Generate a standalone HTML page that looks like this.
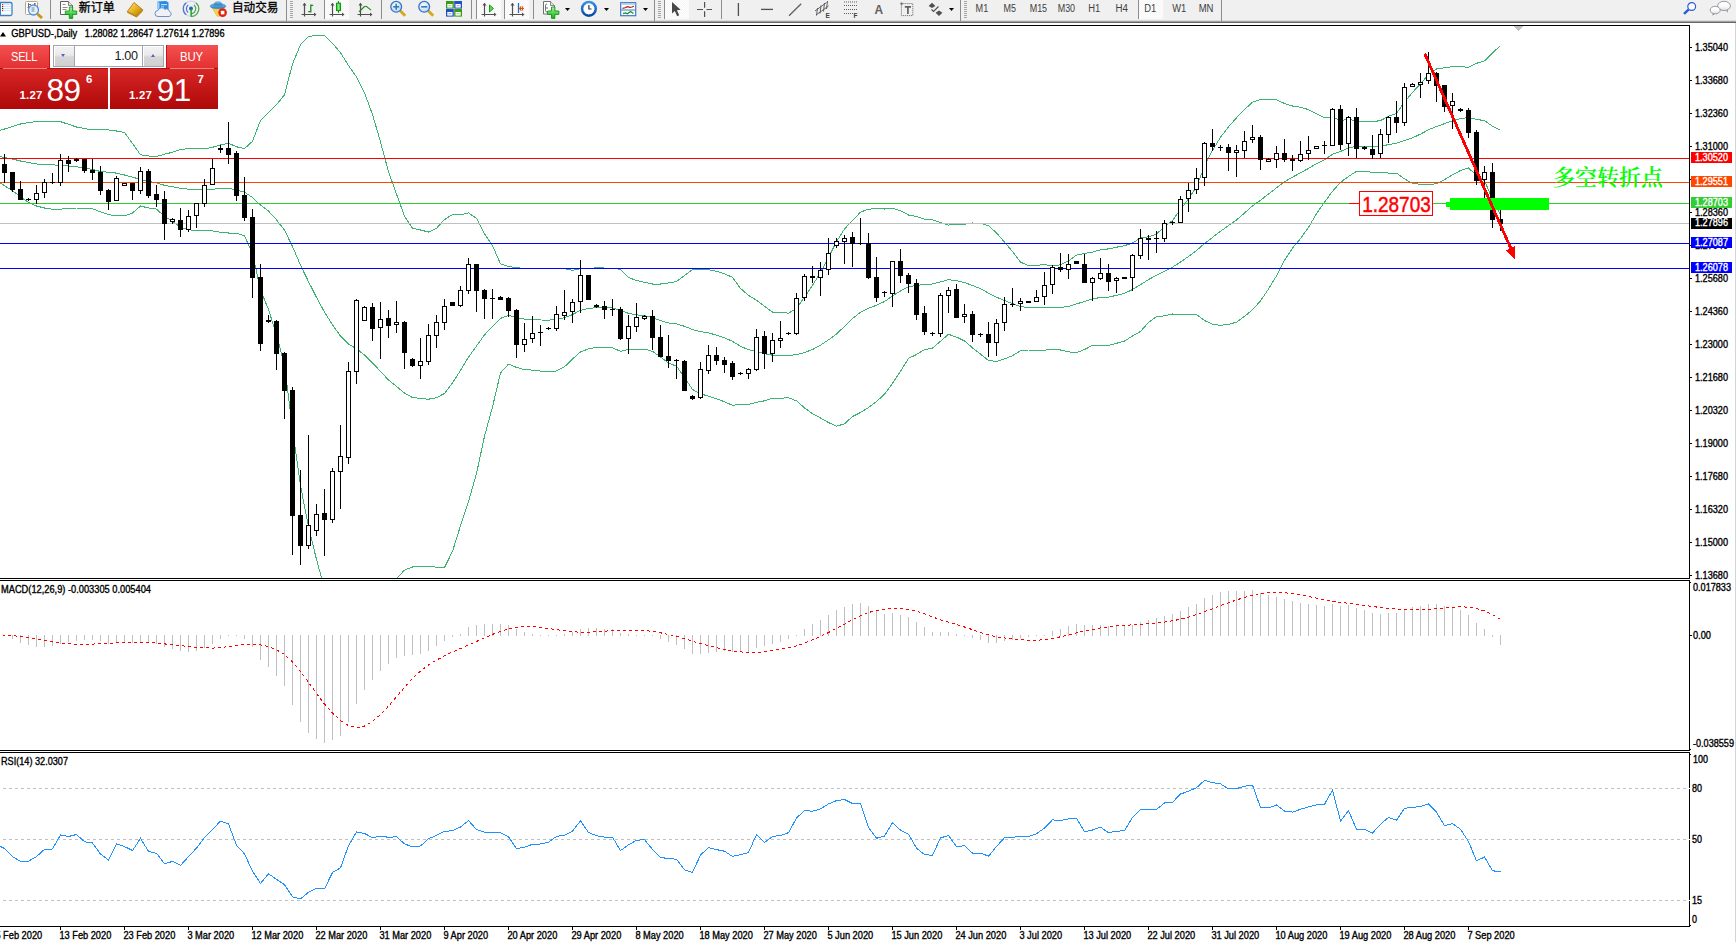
<!DOCTYPE html>
<html><head><meta charset="utf-8"><title>GBPUSD Daily</title>
<style>
html,body{margin:0;padding:0;background:#fff;}
body{width:1736px;height:942px;position:relative;overflow:hidden;font-family:"Liberation Sans", "Noto Sans CJK SC", sans-serif;}
#tb{position:absolute;left:0;top:0;width:1736px;height:20px;background:#f0f0f0;}
#tbl1{position:absolute;left:0;top:20px;width:1736px;height:1px;background:#dcdcdc}
#tbl2{position:absolute;left:0;top:21px;width:1736px;height:1px;background:#a0a0a0}
#tbl3{position:absolute;left:0;top:22px;width:1736px;height:1px;background:#696969}
#oct{position:absolute;left:0;top:45px;width:218px;height:64px;color:#fff;}
#oct .r{position:absolute;}
#oct .sell{left:0;top:0;width:50px;height:24px;background:linear-gradient(#f55050,#e23030);border-right:1px solid #c41414;box-sizing:border-box}
#oct .buy{left:166px;top:0;width:52px;height:24px;background:linear-gradient(#f55050,#e23030);border-left:1px solid #c41414;box-sizing:border-box}
#oct .big{top:23px;height:41px;background:linear-gradient(#d82626,#ae0808);border-top:1px solid #b40c0c;box-sizing:border-box}
#oct .big.l{left:0;width:108px;} #oct .big.rr{left:110px;width:108px;}
#oct .wg{position:absolute;left:50px;top:22px;width:116px;height:1px;background:#fff}
#oct .ul{position:absolute;top:23px;width:44px;height:1px;background:#f08080;}
#oct .spin{position:absolute;left:53px;top:0;width:111px;height:22px;border:1px solid #a2a6ae;background:#fff;box-sizing:border-box}
#oct .sb{position:absolute;top:0;width:21px;height:20px;background:linear-gradient(#f4f4f4,#eaeaea 45%,#d6d6d6 55%,#d0d0d0);box-sizing:border-box}
#oct .sb.lft{left:0;border-right:1px solid #a2a6ae;box-shadow:inset 1px 1px 0 #fff}
#oct .sb.rgt{right:0;border-left:1px solid #a2a6ae;box-shadow:inset 1px 1px 0 #fff}
#oct i{position:absolute;left:7px;width:0;height:0;border-left:2.8px solid transparent;border-right:2.8px solid transparent;}
#oct i.dn{top:8px;border-top:3.6px solid #5660c8;} #oct i.up{top:7.6px;border-bottom:3.6px solid #5660c8;left:7.6px}
#oct .vol{position:absolute;right:25.4px;top:3.3px;font-size:12.6px;line-height:14px;color:#181818;letter-spacing:-0.35px}
#oct .lb{position:absolute;transform-origin:left center;top:5px;font-size:12.4px;line-height:14px;letter-spacing:-0.2px;white-space:nowrap}
#oct .sm{position:absolute;font-size:11.4px;font-weight:700;line-height:12px;letter-spacing:0.25px}
#oct .bg{position:absolute;top:28.5px;font-size:31.5px;line-height:32px;letter-spacing:-0.6px}

</style></head><body>
<svg width="1736" height="942" viewBox="0 0 1736 942" style="position:absolute;left:0;top:0" shape-rendering="crispEdges">
<defs><clipPath id="cm"><rect x="0" y="26" width="1689" height="552"/></clipPath><clipPath id="c2"><rect x="0" y="581" width="1689" height="169"/></clipPath><clipPath id="c3"><rect x="0" y="753" width="1689" height="173"/></clipPath></defs>
<g clip-path="url(#cm)">
<polyline points="-3.5,131.5 4.5,129.0 12.5,126.5 20.5,124.0 28.5,122.5 36.5,121.7 44.5,121.7 52.5,121.7 60.5,121.7 68.5,124.3 76.5,127.0 84.5,128.5 92.5,129.9 100.5,129.9 108.5,129.9 116.5,131.0 124.5,132.5 132.5,143.5 140.5,154.8 148.5,156.0 156.5,156.5 164.5,154.2 172.5,152.3 180.5,149.5 188.5,148.7 196.5,148.7 204.5,148.9 212.5,147.3 220.5,145.0 228.5,143.3 236.5,146.8 244.5,148.6 252.5,141.3 260.5,120.5 268.5,112.6 276.5,104.8 284.5,94.8 292.5,64.0 300.5,44.6 308.5,36.4 316.5,35.4 324.5,35.6 332.5,43.3 340.5,52.7 348.5,65.5 356.5,77.0 364.5,92.8 372.5,114.5 380.5,141.9 388.5,171.8 396.5,194.0 404.5,216.1 412.5,228.1 420.5,230.0 428.5,232.0 436.5,228.3 444.5,219.6 452.5,214.5 460.5,214.8 468.5,212.8 476.5,218.4 484.5,233.6 492.5,245.7 500.5,263.8 508.5,266.5 516.5,267.6 524.5,268.5 532.5,268.5 540.5,268.9 548.5,268.9 556.5,268.5 564.5,268.6 572.5,270.3 580.5,268.6 588.5,268.2 596.5,267.9 604.5,268.0 612.5,268.2 620.5,269.3 628.5,277.5 636.5,280.5 644.5,282.3 652.5,284.0 660.5,284.0 668.5,283.0 676.5,281.5 684.5,275.4 692.5,269.7 700.5,269.1 708.5,269.6 716.5,271.4 724.5,273.7 732.5,277.4 740.5,288.4 748.5,295.3 756.5,300.3 764.5,306.3 772.5,312.1 780.5,312.1 788.5,313.2 796.5,308.3 804.5,297.2 812.5,285.4 820.5,272.4 828.5,257.3 836.5,241.7 844.5,228.9 852.5,220.6 860.5,212.1 868.5,209.1 876.5,208.8 884.5,209.0 892.5,208.4 900.5,210.7 908.5,215.0 916.5,216.5 924.5,219.1 932.5,219.9 940.5,222.6 948.5,225.1 956.5,224.2 964.5,224.3 972.5,223.0 980.5,223.2 988.5,225.7 996.5,232.9 1004.5,242.2 1012.5,251.5 1020.5,262.2 1028.5,265.5 1036.5,265.5 1044.5,264.5 1052.5,266.0 1060.5,264.7 1068.5,261.0 1076.5,255.1 1084.5,253.4 1092.5,252.1 1100.5,249.8 1108.5,248.9 1116.5,247.2 1124.5,245.7 1132.5,243.0 1140.5,238.0 1148.5,236.8 1156.5,234.0 1164.5,226.6 1172.5,220.4 1180.5,209.5 1188.5,198.8 1196.5,186.6 1204.5,166.4 1212.5,150.4 1220.5,137.3 1228.5,126.9 1236.5,117.8 1244.5,109.6 1252.5,102.2 1260.5,99.5 1268.5,99.2 1276.5,99.8 1284.5,103.5 1292.5,106.0 1300.5,107.2 1308.5,109.6 1316.5,113.8 1324.5,117.6 1332.5,117.1 1340.5,120.6 1348.5,119.2 1356.5,121.3 1364.5,121.5 1372.5,121.7 1380.5,120.6 1388.5,116.2 1396.5,113.4 1404.5,102.1 1412.5,92.4 1420.5,83.8 1428.5,74.6 1436.5,69.0 1444.5,67.8 1452.5,66.6 1460.5,66.6 1468.5,67.3 1476.5,63.3 1484.5,60.9 1492.5,52.9 1500.5,45.5" fill="none" stroke="#3cb371" stroke-width="1" />
<polyline points="-3.5,156.0 4.5,157.5 12.5,159.0 20.5,161.0 28.5,162.5 36.5,164.0 44.5,164.7 52.5,164.9 60.5,165.2 68.5,166.1 76.5,166.8 84.5,168.0 92.5,169.5 100.5,171.5 108.5,172.3 116.5,173.1 124.5,175.0 132.5,177.2 140.5,179.4 148.5,181.5 156.5,182.8 164.5,185.3 172.5,186.8 180.5,188.3 188.5,189.2 196.5,189.8 204.5,189.9 212.5,189.2 220.5,188.6 228.5,188.2 236.5,189.9 244.5,192.2 252.5,197.5 260.5,205.1 268.5,211.1 276.5,219.8 284.5,230.2 292.5,246.5 300.5,265.1 308.5,281.7 316.5,297.4 324.5,312.2 332.5,324.8 340.5,336.2 348.5,344.0 356.5,348.8 364.5,355.0 372.5,362.9 380.5,371.4 388.5,380.0 396.5,386.4 404.5,393.1 412.5,397.5 420.5,398.5 428.5,399.2 436.5,397.7 444.5,393.5 452.5,383.0 460.5,370.3 468.5,357.2 476.5,346.0 484.5,334.9 492.5,326.3 500.5,318.4 508.5,315.3 516.5,317.5 524.5,319.1 532.5,319.3 540.5,320.0 548.5,320.1 556.5,319.7 564.5,317.7 572.5,314.6 580.5,310.3 588.5,308.5 596.5,307.6 604.5,307.8 612.5,308.0 620.5,310.3 628.5,313.4 636.5,314.8 644.5,315.7 652.5,317.7 660.5,320.5 668.5,323.0 676.5,323.8 684.5,326.3 692.5,329.6 700.5,331.5 708.5,332.9 716.5,335.1 724.5,337.7 732.5,341.4 740.5,346.3 748.5,349.8 756.5,351.4 764.5,353.6 772.5,355.2 780.5,355.2 788.5,355.5 796.5,354.6 804.5,352.5 812.5,349.5 820.5,345.2 828.5,339.9 836.5,334.0 844.5,326.4 852.5,318.6 860.5,312.3 868.5,308.3 876.5,305.2 884.5,301.6 892.5,295.9 900.5,291.0 908.5,286.7 916.5,285.5 924.5,284.4 932.5,284.0 940.5,281.9 948.5,279.7 956.5,280.6 964.5,282.6 972.5,285.4 980.5,288.7 988.5,293.1 996.5,297.2 1004.5,300.5 1012.5,303.6 1020.5,306.5 1028.5,307.7 1036.5,307.7 1044.5,307.4 1052.5,307.7 1060.5,307.4 1068.5,306.4 1076.5,303.9 1084.5,301.5 1092.5,298.7 1100.5,297.6 1108.5,297.2 1116.5,295.3 1124.5,293.4 1132.5,289.5 1140.5,284.7 1148.5,279.6 1156.5,275.3 1164.5,271.3 1172.5,267.2 1180.5,262.1 1188.5,256.5 1196.5,250.6 1204.5,243.5 1212.5,237.4 1220.5,231.3 1228.5,225.6 1236.5,220.0 1244.5,213.0 1252.5,205.9 1260.5,200.2 1268.5,194.1 1276.5,187.8 1284.5,181.9 1292.5,177.1 1300.5,172.9 1308.5,168.4 1316.5,163.8 1324.5,159.9 1332.5,154.2 1340.5,151.5 1348.5,147.8 1356.5,146.3 1364.5,146.6 1372.5,147.0 1380.5,146.3 1388.5,144.6 1396.5,143.2 1404.5,140.5 1412.5,137.9 1420.5,134.1 1428.5,129.8 1436.5,126.4 1444.5,123.7 1452.5,120.8 1460.5,118.5 1468.5,117.6 1476.5,119.3 1484.5,120.7 1492.5,126.2 1500.5,130.2" fill="none" stroke="#3cb371" stroke-width="1" />
<polyline points="-3.5,180.6 4.5,185.7 12.5,190.8 20.5,196.9 28.5,202.5 36.5,206.0 44.5,208.0 52.5,209.2 60.5,209.2 68.5,208.3 76.5,208.0 84.5,208.0 92.5,208.8 100.5,211.8 108.5,214.7 116.5,215.9 124.5,216.0 132.5,213.0 140.5,206.0 148.5,208.0 156.5,209.1 164.5,216.4 172.5,221.4 180.5,227.2 188.5,229.7 196.5,230.8 204.5,230.8 212.5,231.0 220.5,232.3 228.5,233.0 236.5,233.0 244.5,235.9 252.5,253.6 260.5,289.7 268.5,309.6 276.5,334.9 284.5,365.6 292.5,428.9 300.5,485.6 308.5,526.9 316.5,559.5 324.5,588.9 332.5,606.4 340.5,619.8 348.5,622.5 356.5,620.7 364.5,617.1 372.5,611.3 380.5,600.9 388.5,588.2 396.5,578.7 404.5,570.1 412.5,567.0 420.5,566.9 428.5,566.4 436.5,567.1 444.5,567.5 452.5,551.4 460.5,525.8 468.5,501.7 476.5,473.6 484.5,436.3 492.5,406.9 500.5,373.0 508.5,364.1 516.5,367.4 524.5,369.7 532.5,370.1 540.5,371.1 548.5,371.3 556.5,371.0 564.5,366.8 572.5,358.9 580.5,352.0 588.5,348.8 596.5,347.4 604.5,347.5 612.5,347.7 620.5,351.4 628.5,349.3 636.5,349.1 644.5,349.2 652.5,351.3 660.5,357.0 668.5,363.0 676.5,366.2 684.5,377.3 692.5,389.5 700.5,393.9 708.5,396.1 716.5,398.9 724.5,401.7 732.5,405.4 740.5,404.1 748.5,404.3 756.5,402.4 764.5,400.8 772.5,398.3 780.5,398.2 788.5,397.8 796.5,400.8 804.5,407.9 812.5,413.7 820.5,418.0 828.5,422.5 836.5,426.2 844.5,423.8 852.5,416.5 860.5,412.5 868.5,407.6 876.5,401.6 884.5,394.2 892.5,383.4 900.5,371.3 908.5,358.4 916.5,354.5 924.5,349.7 932.5,348.1 940.5,341.2 948.5,334.3 956.5,337.1 964.5,340.9 972.5,347.9 980.5,354.1 988.5,360.5 996.5,361.5 1004.5,358.9 1012.5,355.7 1020.5,350.7 1028.5,350.0 1036.5,350.0 1044.5,350.2 1052.5,349.3 1060.5,350.0 1068.5,351.8 1076.5,352.8 1084.5,349.5 1092.5,345.4 1100.5,345.5 1108.5,345.5 1116.5,343.3 1124.5,341.1 1132.5,336.0 1140.5,331.5 1148.5,322.4 1156.5,316.6 1164.5,315.9 1172.5,314.0 1180.5,314.6 1188.5,314.3 1196.5,314.6 1204.5,320.5 1212.5,324.3 1220.5,325.3 1228.5,324.4 1236.5,322.2 1244.5,316.4 1252.5,309.7 1260.5,300.9 1268.5,289.0 1276.5,275.9 1284.5,260.3 1292.5,248.1 1300.5,238.6 1308.5,227.3 1316.5,213.8 1324.5,202.1 1332.5,191.3 1340.5,182.4 1348.5,176.4 1356.5,171.4 1364.5,171.6 1372.5,172.2 1380.5,172.1 1388.5,173.1 1396.5,173.1 1404.5,178.9 1412.5,183.3 1420.5,184.3 1428.5,184.9 1436.5,183.7 1444.5,179.6 1452.5,174.9 1460.5,170.5 1468.5,168.0 1476.5,175.4 1484.5,180.6 1492.5,199.6 1500.5,214.9" fill="none" stroke="#3cb371" stroke-width="1" />
<rect x="0" y="158" width="1689" height="1" fill="#ff0000"/>
<rect x="0" y="182" width="1689" height="1" fill="#ff4500"/>
<rect x="0" y="203" width="1689" height="1" fill="#32cd32"/>
<rect x="0" y="223" width="1689" height="1" fill="#c0c0c0"/>
<rect x="0" y="243" width="1689" height="1" fill="#0000ff"/>
<rect x="0" y="268" width="1689" height="1" fill="#0000ff"/>
<rect x="4" y="154" width="1" height="29" fill="#000"/>
<rect x="2" y="164" width="5" height="9" fill="#000"/>
<rect x="12" y="172" width="1" height="20" fill="#000"/>
<rect x="10" y="172" width="5" height="18" fill="#000"/>
<rect x="20" y="181" width="1" height="19" fill="#000"/>
<rect x="18" y="189" width="5" height="11" fill="#000"/>
<rect x="28" y="198" width="1" height="3" fill="#000"/>
<rect x="26" y="199" width="5" height="1" fill="#000"/>
<rect x="36" y="185" width="1" height="19" fill="#000"/>
<rect x="34" y="193" width="5" height="7" fill="#000"/>
<rect x="35" y="194" width="3" height="5" fill="#fff"/>
<rect x="44" y="179" width="1" height="19" fill="#000"/>
<rect x="42" y="182" width="5" height="11" fill="#000"/>
<rect x="43" y="183" width="3" height="9" fill="#fff"/>
<rect x="52" y="173" width="1" height="11" fill="#000"/>
<rect x="50" y="182" width="5" height="1" fill="#000"/>
<rect x="60" y="154" width="1" height="32" fill="#000"/>
<rect x="58" y="160" width="5" height="23" fill="#000"/>
<rect x="59" y="161" width="3" height="21" fill="#fff"/>
<rect x="68" y="156" width="1" height="16" fill="#000"/>
<rect x="66" y="160" width="5" height="4" fill="#000"/>
<rect x="76" y="158" width="1" height="4" fill="#000"/>
<rect x="74" y="159" width="5" height="2" fill="#000"/>
<rect x="84" y="159" width="1" height="14" fill="#000"/>
<rect x="82" y="159" width="5" height="12" fill="#000"/>
<rect x="92" y="159" width="1" height="21" fill="#000"/>
<rect x="90" y="170" width="5" height="3" fill="#000"/>
<rect x="100" y="166" width="1" height="29" fill="#000"/>
<rect x="98" y="172" width="5" height="19" fill="#000"/>
<rect x="108" y="189" width="1" height="21" fill="#000"/>
<rect x="106" y="190" width="5" height="12" fill="#000"/>
<rect x="116" y="176" width="1" height="25" fill="#000"/>
<rect x="114" y="178" width="5" height="23" fill="#000"/>
<rect x="115" y="179" width="3" height="21" fill="#fff"/>
<rect x="124" y="183" width="1" height="3" fill="#000"/>
<rect x="122" y="183" width="5" height="3" fill="#000"/>
<rect x="123" y="184" width="3" height="1" fill="#fff"/>
<rect x="132" y="183" width="1" height="17" fill="#000"/>
<rect x="130" y="183" width="5" height="8" fill="#000"/>
<rect x="140" y="167" width="1" height="27" fill="#000"/>
<rect x="138" y="171" width="5" height="20" fill="#000"/>
<rect x="139" y="172" width="3" height="18" fill="#fff"/>
<rect x="148" y="169" width="1" height="29" fill="#000"/>
<rect x="146" y="171" width="5" height="25" fill="#000"/>
<rect x="156" y="185" width="1" height="22" fill="#000"/>
<rect x="154" y="194" width="5" height="6" fill="#000"/>
<rect x="164" y="191" width="1" height="49" fill="#000"/>
<rect x="162" y="199" width="5" height="25" fill="#000"/>
<rect x="172" y="218" width="1" height="6" fill="#000"/>
<rect x="170" y="219" width="5" height="3" fill="#000"/>
<rect x="171" y="220" width="3" height="1" fill="#fff"/>
<rect x="180" y="208" width="1" height="29" fill="#000"/>
<rect x="178" y="220" width="5" height="10" fill="#000"/>
<rect x="188" y="210" width="1" height="22" fill="#000"/>
<rect x="186" y="216" width="5" height="14" fill="#000"/>
<rect x="187" y="217" width="3" height="12" fill="#fff"/>
<rect x="196" y="203" width="1" height="25" fill="#000"/>
<rect x="194" y="203" width="5" height="13" fill="#000"/>
<rect x="195" y="204" width="3" height="11" fill="#fff"/>
<rect x="204" y="179" width="1" height="28" fill="#000"/>
<rect x="202" y="185" width="5" height="19" fill="#000"/>
<rect x="203" y="186" width="3" height="17" fill="#fff"/>
<rect x="212" y="159" width="1" height="26" fill="#000"/>
<rect x="210" y="168" width="5" height="17" fill="#000"/>
<rect x="211" y="169" width="3" height="15" fill="#fff"/>
<rect x="220" y="145" width="1" height="8" fill="#000"/>
<rect x="218" y="148" width="5" height="2" fill="#000"/>
<rect x="228" y="122" width="1" height="42" fill="#000"/>
<rect x="226" y="148" width="5" height="7" fill="#000"/>
<rect x="236" y="151" width="1" height="50" fill="#000"/>
<rect x="234" y="153" width="5" height="43" fill="#000"/>
<rect x="244" y="177" width="1" height="44" fill="#000"/>
<rect x="242" y="195" width="5" height="23" fill="#000"/>
<rect x="252" y="209" width="1" height="89" fill="#000"/>
<rect x="250" y="217" width="5" height="61" fill="#000"/>
<rect x="260" y="264" width="1" height="87" fill="#000"/>
<rect x="258" y="277" width="5" height="67" fill="#000"/>
<rect x="268" y="315" width="1" height="8" fill="#000"/>
<rect x="266" y="320" width="5" height="2" fill="#000"/>
<rect x="276" y="320" width="1" height="50" fill="#000"/>
<rect x="274" y="321" width="5" height="33" fill="#000"/>
<rect x="284" y="352" width="1" height="67" fill="#000"/>
<rect x="282" y="353" width="5" height="38" fill="#000"/>
<rect x="292" y="387" width="1" height="168" fill="#000"/>
<rect x="290" y="390" width="5" height="126" fill="#000"/>
<rect x="300" y="470" width="1" height="95" fill="#000"/>
<rect x="298" y="515" width="5" height="31" fill="#000"/>
<rect x="308" y="435" width="1" height="114" fill="#000"/>
<rect x="306" y="525" width="5" height="21" fill="#000"/>
<rect x="307" y="526" width="3" height="19" fill="#fff"/>
<rect x="316" y="504" width="1" height="32" fill="#000"/>
<rect x="314" y="514" width="5" height="17" fill="#000"/>
<rect x="315" y="515" width="3" height="15" fill="#fff"/>
<rect x="324" y="489" width="1" height="67" fill="#000"/>
<rect x="322" y="513" width="5" height="7" fill="#000"/>
<rect x="332" y="468" width="1" height="55" fill="#000"/>
<rect x="330" y="471" width="5" height="49" fill="#000"/>
<rect x="331" y="472" width="3" height="47" fill="#fff"/>
<rect x="340" y="425" width="1" height="84" fill="#000"/>
<rect x="338" y="456" width="5" height="16" fill="#000"/>
<rect x="339" y="457" width="3" height="14" fill="#fff"/>
<rect x="348" y="362" width="1" height="102" fill="#000"/>
<rect x="346" y="371" width="5" height="87" fill="#000"/>
<rect x="347" y="372" width="3" height="85" fill="#fff"/>
<rect x="356" y="299" width="1" height="85" fill="#000"/>
<rect x="354" y="300" width="5" height="72" fill="#000"/>
<rect x="355" y="301" width="3" height="70" fill="#fff"/>
<rect x="364" y="306" width="1" height="15" fill="#000"/>
<rect x="362" y="307" width="5" height="14" fill="#000"/>
<rect x="363" y="308" width="3" height="12" fill="#fff"/>
<rect x="372" y="303" width="1" height="38" fill="#000"/>
<rect x="370" y="307" width="5" height="22" fill="#000"/>
<rect x="380" y="302" width="1" height="57" fill="#000"/>
<rect x="378" y="319" width="5" height="9" fill="#000"/>
<rect x="379" y="320" width="3" height="7" fill="#fff"/>
<rect x="388" y="310" width="1" height="28" fill="#000"/>
<rect x="386" y="318" width="5" height="8" fill="#000"/>
<rect x="396" y="301" width="1" height="32" fill="#000"/>
<rect x="394" y="322" width="5" height="3" fill="#000"/>
<rect x="395" y="323" width="3" height="1" fill="#fff"/>
<rect x="404" y="321" width="1" height="48" fill="#000"/>
<rect x="402" y="322" width="5" height="31" fill="#000"/>
<rect x="412" y="358" width="1" height="9" fill="#000"/>
<rect x="410" y="359" width="5" height="7" fill="#000"/>
<rect x="420" y="338" width="1" height="41" fill="#000"/>
<rect x="418" y="361" width="5" height="5" fill="#000"/>
<rect x="419" y="362" width="3" height="3" fill="#fff"/>
<rect x="428" y="324" width="1" height="41" fill="#000"/>
<rect x="426" y="335" width="5" height="27" fill="#000"/>
<rect x="427" y="336" width="3" height="25" fill="#fff"/>
<rect x="436" y="315" width="1" height="33" fill="#000"/>
<rect x="434" y="322" width="5" height="14" fill="#000"/>
<rect x="435" y="323" width="3" height="12" fill="#fff"/>
<rect x="444" y="299" width="1" height="31" fill="#000"/>
<rect x="442" y="306" width="5" height="17" fill="#000"/>
<rect x="443" y="307" width="3" height="15" fill="#fff"/>
<rect x="452" y="302" width="1" height="4" fill="#000"/>
<rect x="450" y="302" width="5" height="4" fill="#000"/>
<rect x="460" y="286" width="1" height="21" fill="#000"/>
<rect x="458" y="290" width="5" height="16" fill="#000"/>
<rect x="459" y="291" width="3" height="14" fill="#fff"/>
<rect x="468" y="258" width="1" height="36" fill="#000"/>
<rect x="466" y="264" width="5" height="27" fill="#000"/>
<rect x="467" y="265" width="3" height="25" fill="#fff"/>
<rect x="476" y="264" width="1" height="48" fill="#000"/>
<rect x="474" y="264" width="5" height="27" fill="#000"/>
<rect x="484" y="289" width="1" height="30" fill="#000"/>
<rect x="482" y="290" width="5" height="9" fill="#000"/>
<rect x="492" y="289" width="1" height="30" fill="#000"/>
<rect x="490" y="298" width="5" height="1" fill="#000"/>
<rect x="500" y="296" width="1" height="4" fill="#000"/>
<rect x="498" y="297" width="5" height="3" fill="#000"/>
<rect x="508" y="297" width="1" height="20" fill="#000"/>
<rect x="506" y="298" width="5" height="13" fill="#000"/>
<rect x="516" y="309" width="1" height="49" fill="#000"/>
<rect x="514" y="310" width="5" height="35" fill="#000"/>
<rect x="524" y="323" width="1" height="29" fill="#000"/>
<rect x="522" y="339" width="5" height="6" fill="#000"/>
<rect x="523" y="340" width="3" height="4" fill="#fff"/>
<rect x="532" y="316" width="1" height="27" fill="#000"/>
<rect x="530" y="333" width="5" height="6" fill="#000"/>
<rect x="531" y="334" width="3" height="4" fill="#fff"/>
<rect x="540" y="325" width="1" height="21" fill="#000"/>
<rect x="538" y="332" width="5" height="1" fill="#000"/>
<rect x="548" y="327" width="1" height="3" fill="#000"/>
<rect x="546" y="328" width="5" height="1" fill="#000"/>
<rect x="556" y="306" width="1" height="25" fill="#000"/>
<rect x="554" y="314" width="5" height="15" fill="#000"/>
<rect x="555" y="315" width="3" height="13" fill="#fff"/>
<rect x="564" y="290" width="1" height="30" fill="#000"/>
<rect x="562" y="312" width="5" height="4" fill="#000"/>
<rect x="563" y="313" width="3" height="2" fill="#fff"/>
<rect x="572" y="299" width="1" height="24" fill="#000"/>
<rect x="570" y="302" width="5" height="10" fill="#000"/>
<rect x="571" y="303" width="3" height="8" fill="#fff"/>
<rect x="580" y="260" width="1" height="53" fill="#000"/>
<rect x="578" y="275" width="5" height="27" fill="#000"/>
<rect x="579" y="276" width="3" height="25" fill="#fff"/>
<rect x="588" y="275" width="1" height="25" fill="#000"/>
<rect x="586" y="275" width="5" height="25" fill="#000"/>
<rect x="596" y="304" width="1" height="4" fill="#000"/>
<rect x="594" y="305" width="5" height="2" fill="#000"/>
<rect x="604" y="301" width="1" height="18" fill="#000"/>
<rect x="602" y="306" width="5" height="4" fill="#000"/>
<rect x="612" y="299" width="1" height="17" fill="#000"/>
<rect x="610" y="309" width="5" height="1" fill="#000"/>
<rect x="620" y="307" width="1" height="33" fill="#000"/>
<rect x="618" y="309" width="5" height="30" fill="#000"/>
<rect x="628" y="315" width="1" height="39" fill="#000"/>
<rect x="626" y="326" width="5" height="13" fill="#000"/>
<rect x="627" y="327" width="3" height="11" fill="#fff"/>
<rect x="636" y="303" width="1" height="29" fill="#000"/>
<rect x="634" y="317" width="5" height="10" fill="#000"/>
<rect x="635" y="318" width="3" height="8" fill="#fff"/>
<rect x="644" y="315" width="1" height="5" fill="#000"/>
<rect x="642" y="316" width="5" height="3" fill="#000"/>
<rect x="643" y="317" width="3" height="1" fill="#fff"/>
<rect x="652" y="310" width="1" height="40" fill="#000"/>
<rect x="650" y="316" width="5" height="22" fill="#000"/>
<rect x="660" y="325" width="1" height="32" fill="#000"/>
<rect x="658" y="337" width="5" height="20" fill="#000"/>
<rect x="668" y="335" width="1" height="33" fill="#000"/>
<rect x="666" y="356" width="5" height="5" fill="#000"/>
<rect x="676" y="359" width="1" height="20" fill="#000"/>
<rect x="674" y="360" width="5" height="1" fill="#000"/>
<rect x="684" y="360" width="1" height="31" fill="#000"/>
<rect x="682" y="361" width="5" height="30" fill="#000"/>
<rect x="692" y="395" width="1" height="5" fill="#000"/>
<rect x="690" y="396" width="5" height="3" fill="#000"/>
<rect x="700" y="362" width="1" height="37" fill="#000"/>
<rect x="698" y="369" width="5" height="29" fill="#000"/>
<rect x="699" y="370" width="3" height="27" fill="#fff"/>
<rect x="708" y="345" width="1" height="29" fill="#000"/>
<rect x="706" y="355" width="5" height="16" fill="#000"/>
<rect x="707" y="356" width="3" height="14" fill="#fff"/>
<rect x="716" y="347" width="1" height="18" fill="#000"/>
<rect x="714" y="355" width="5" height="6" fill="#000"/>
<rect x="724" y="357" width="1" height="16" fill="#000"/>
<rect x="722" y="360" width="5" height="5" fill="#000"/>
<rect x="732" y="361" width="1" height="19" fill="#000"/>
<rect x="730" y="363" width="5" height="14" fill="#000"/>
<rect x="740" y="372" width="1" height="3" fill="#000"/>
<rect x="738" y="373" width="5" height="1" fill="#000"/>
<rect x="748" y="368" width="1" height="11" fill="#000"/>
<rect x="746" y="369" width="5" height="5" fill="#000"/>
<rect x="747" y="370" width="3" height="3" fill="#fff"/>
<rect x="756" y="329" width="1" height="42" fill="#000"/>
<rect x="754" y="337" width="5" height="33" fill="#000"/>
<rect x="755" y="338" width="3" height="31" fill="#fff"/>
<rect x="764" y="331" width="1" height="38" fill="#000"/>
<rect x="762" y="336" width="5" height="18" fill="#000"/>
<rect x="772" y="333" width="1" height="29" fill="#000"/>
<rect x="770" y="340" width="5" height="14" fill="#000"/>
<rect x="771" y="341" width="3" height="12" fill="#fff"/>
<rect x="780" y="321" width="1" height="27" fill="#000"/>
<rect x="778" y="338" width="5" height="3" fill="#000"/>
<rect x="779" y="339" width="3" height="1" fill="#fff"/>
<rect x="788" y="332" width="1" height="3" fill="#000"/>
<rect x="786" y="333" width="5" height="1" fill="#000"/>
<rect x="796" y="293" width="1" height="42" fill="#000"/>
<rect x="794" y="298" width="5" height="36" fill="#000"/>
<rect x="795" y="299" width="3" height="34" fill="#fff"/>
<rect x="804" y="274" width="1" height="27" fill="#000"/>
<rect x="802" y="276" width="5" height="22" fill="#000"/>
<rect x="803" y="277" width="3" height="20" fill="#fff"/>
<rect x="812" y="266" width="1" height="17" fill="#000"/>
<rect x="810" y="276" width="5" height="2" fill="#000"/>
<rect x="820" y="262" width="1" height="34" fill="#000"/>
<rect x="818" y="270" width="5" height="8" fill="#000"/>
<rect x="819" y="271" width="3" height="6" fill="#fff"/>
<rect x="828" y="238" width="1" height="37" fill="#000"/>
<rect x="826" y="253" width="5" height="17" fill="#000"/>
<rect x="827" y="254" width="3" height="15" fill="#fff"/>
<rect x="836" y="238" width="1" height="10" fill="#000"/>
<rect x="834" y="241" width="5" height="5" fill="#000"/>
<rect x="835" y="242" width="3" height="3" fill="#fff"/>
<rect x="844" y="235" width="1" height="29" fill="#000"/>
<rect x="842" y="238" width="5" height="4" fill="#000"/>
<rect x="843" y="239" width="3" height="2" fill="#fff"/>
<rect x="852" y="232" width="1" height="35" fill="#000"/>
<rect x="850" y="237" width="5" height="7" fill="#000"/>
<rect x="860" y="218" width="1" height="27" fill="#000"/>
<rect x="858" y="243" width="5" height="1" fill="#000"/>
<rect x="868" y="233" width="1" height="46" fill="#000"/>
<rect x="866" y="243" width="5" height="35" fill="#000"/>
<rect x="876" y="257" width="1" height="45" fill="#000"/>
<rect x="874" y="277" width="5" height="21" fill="#000"/>
<rect x="884" y="291" width="1" height="6" fill="#000"/>
<rect x="882" y="292" width="5" height="1" fill="#000"/>
<rect x="892" y="261" width="1" height="46" fill="#000"/>
<rect x="890" y="261" width="5" height="33" fill="#000"/>
<rect x="891" y="262" width="3" height="31" fill="#fff"/>
<rect x="900" y="249" width="1" height="34" fill="#000"/>
<rect x="898" y="261" width="5" height="15" fill="#000"/>
<rect x="908" y="273" width="1" height="20" fill="#000"/>
<rect x="906" y="275" width="5" height="9" fill="#000"/>
<rect x="916" y="279" width="1" height="41" fill="#000"/>
<rect x="914" y="283" width="5" height="32" fill="#000"/>
<rect x="924" y="306" width="1" height="29" fill="#000"/>
<rect x="922" y="313" width="5" height="19" fill="#000"/>
<rect x="932" y="332" width="1" height="4" fill="#000"/>
<rect x="930" y="333" width="5" height="1" fill="#000"/>
<rect x="940" y="293" width="1" height="44" fill="#000"/>
<rect x="938" y="295" width="5" height="39" fill="#000"/>
<rect x="939" y="296" width="3" height="37" fill="#fff"/>
<rect x="948" y="287" width="1" height="26" fill="#000"/>
<rect x="946" y="290" width="5" height="6" fill="#000"/>
<rect x="947" y="291" width="3" height="4" fill="#fff"/>
<rect x="956" y="284" width="1" height="34" fill="#000"/>
<rect x="954" y="289" width="5" height="29" fill="#000"/>
<rect x="964" y="304" width="1" height="19" fill="#000"/>
<rect x="962" y="314" width="5" height="3" fill="#000"/>
<rect x="963" y="315" width="3" height="1" fill="#fff"/>
<rect x="972" y="311" width="1" height="31" fill="#000"/>
<rect x="970" y="314" width="5" height="21" fill="#000"/>
<rect x="980" y="333" width="1" height="4" fill="#000"/>
<rect x="978" y="334" width="5" height="1" fill="#000"/>
<rect x="988" y="322" width="1" height="35" fill="#000"/>
<rect x="986" y="334" width="5" height="9" fill="#000"/>
<rect x="996" y="319" width="1" height="37" fill="#000"/>
<rect x="994" y="323" width="5" height="20" fill="#000"/>
<rect x="995" y="324" width="3" height="18" fill="#fff"/>
<rect x="1004" y="297" width="1" height="34" fill="#000"/>
<rect x="1002" y="304" width="5" height="19" fill="#000"/>
<rect x="1003" y="305" width="3" height="17" fill="#fff"/>
<rect x="1012" y="288" width="1" height="19" fill="#000"/>
<rect x="1010" y="304" width="5" height="1" fill="#000"/>
<rect x="1020" y="298" width="1" height="13" fill="#000"/>
<rect x="1018" y="301" width="5" height="3" fill="#000"/>
<rect x="1019" y="302" width="3" height="1" fill="#fff"/>
<rect x="1028" y="301" width="1" height="2" fill="#000"/>
<rect x="1026" y="301" width="5" height="2" fill="#000"/>
<rect x="1036" y="290" width="1" height="12" fill="#000"/>
<rect x="1034" y="297" width="5" height="5" fill="#000"/>
<rect x="1035" y="298" width="3" height="3" fill="#fff"/>
<rect x="1044" y="272" width="1" height="33" fill="#000"/>
<rect x="1042" y="285" width="5" height="12" fill="#000"/>
<rect x="1043" y="286" width="3" height="10" fill="#fff"/>
<rect x="1052" y="265" width="1" height="29" fill="#000"/>
<rect x="1050" y="267" width="5" height="18" fill="#000"/>
<rect x="1051" y="268" width="3" height="16" fill="#fff"/>
<rect x="1060" y="253" width="1" height="19" fill="#000"/>
<rect x="1058" y="267" width="5" height="3" fill="#000"/>
<rect x="1068" y="254" width="1" height="25" fill="#000"/>
<rect x="1066" y="264" width="5" height="6" fill="#000"/>
<rect x="1067" y="265" width="3" height="4" fill="#fff"/>
<rect x="1076" y="261" width="1" height="3" fill="#000"/>
<rect x="1074" y="261" width="5" height="3" fill="#000"/>
<rect x="1084" y="254" width="1" height="29" fill="#000"/>
<rect x="1082" y="264" width="5" height="19" fill="#000"/>
<rect x="1092" y="277" width="1" height="24" fill="#000"/>
<rect x="1090" y="278" width="5" height="5" fill="#000"/>
<rect x="1091" y="279" width="3" height="3" fill="#fff"/>
<rect x="1100" y="258" width="1" height="22" fill="#000"/>
<rect x="1098" y="273" width="5" height="6" fill="#000"/>
<rect x="1099" y="274" width="3" height="4" fill="#fff"/>
<rect x="1108" y="264" width="1" height="27" fill="#000"/>
<rect x="1106" y="273" width="5" height="9" fill="#000"/>
<rect x="1116" y="277" width="1" height="16" fill="#000"/>
<rect x="1114" y="278" width="5" height="3" fill="#000"/>
<rect x="1115" y="279" width="3" height="1" fill="#fff"/>
<rect x="1124" y="277" width="1" height="2" fill="#000"/>
<rect x="1122" y="277" width="5" height="2" fill="#000"/>
<rect x="1132" y="254" width="1" height="37" fill="#000"/>
<rect x="1130" y="255" width="5" height="23" fill="#000"/>
<rect x="1131" y="256" width="3" height="21" fill="#fff"/>
<rect x="1140" y="229" width="1" height="30" fill="#000"/>
<rect x="1138" y="238" width="5" height="18" fill="#000"/>
<rect x="1139" y="239" width="3" height="16" fill="#fff"/>
<rect x="1148" y="235" width="1" height="25" fill="#000"/>
<rect x="1146" y="238" width="5" height="2" fill="#000"/>
<rect x="1156" y="231" width="1" height="22" fill="#000"/>
<rect x="1154" y="238" width="5" height="1" fill="#000"/>
<rect x="1164" y="220" width="1" height="22" fill="#000"/>
<rect x="1162" y="223" width="5" height="16" fill="#000"/>
<rect x="1163" y="224" width="3" height="14" fill="#fff"/>
<rect x="1172" y="221" width="1" height="4" fill="#000"/>
<rect x="1170" y="222" width="5" height="1" fill="#000"/>
<rect x="1180" y="196" width="1" height="27" fill="#000"/>
<rect x="1178" y="199" width="5" height="24" fill="#000"/>
<rect x="1179" y="200" width="3" height="22" fill="#fff"/>
<rect x="1188" y="183" width="1" height="29" fill="#000"/>
<rect x="1186" y="190" width="5" height="9" fill="#000"/>
<rect x="1187" y="191" width="3" height="7" fill="#fff"/>
<rect x="1196" y="168" width="1" height="26" fill="#000"/>
<rect x="1194" y="178" width="5" height="12" fill="#000"/>
<rect x="1195" y="179" width="3" height="10" fill="#fff"/>
<rect x="1204" y="142" width="1" height="44" fill="#000"/>
<rect x="1202" y="143" width="5" height="35" fill="#000"/>
<rect x="1203" y="144" width="3" height="33" fill="#fff"/>
<rect x="1212" y="129" width="1" height="22" fill="#000"/>
<rect x="1210" y="143" width="5" height="4" fill="#000"/>
<rect x="1220" y="145" width="1" height="6" fill="#000"/>
<rect x="1218" y="147" width="5" height="1" fill="#000"/>
<rect x="1228" y="144" width="1" height="27" fill="#000"/>
<rect x="1226" y="147" width="5" height="6" fill="#000"/>
<rect x="1236" y="145" width="1" height="32" fill="#000"/>
<rect x="1234" y="150" width="5" height="3" fill="#000"/>
<rect x="1235" y="151" width="3" height="1" fill="#fff"/>
<rect x="1244" y="131" width="1" height="27" fill="#000"/>
<rect x="1242" y="141" width="5" height="10" fill="#000"/>
<rect x="1243" y="142" width="3" height="8" fill="#fff"/>
<rect x="1252" y="125" width="1" height="18" fill="#000"/>
<rect x="1250" y="137" width="5" height="3" fill="#000"/>
<rect x="1251" y="138" width="3" height="1" fill="#fff"/>
<rect x="1260" y="135" width="1" height="35" fill="#000"/>
<rect x="1258" y="137" width="5" height="23" fill="#000"/>
<rect x="1268" y="158" width="1" height="4" fill="#000"/>
<rect x="1266" y="159" width="5" height="3" fill="#000"/>
<rect x="1267" y="160" width="3" height="1" fill="#fff"/>
<rect x="1276" y="146" width="1" height="22" fill="#000"/>
<rect x="1274" y="153" width="5" height="7" fill="#000"/>
<rect x="1275" y="154" width="3" height="5" fill="#fff"/>
<rect x="1284" y="139" width="1" height="23" fill="#000"/>
<rect x="1282" y="153" width="5" height="7" fill="#000"/>
<rect x="1292" y="155" width="1" height="16" fill="#000"/>
<rect x="1290" y="159" width="5" height="2" fill="#000"/>
<rect x="1300" y="141" width="1" height="21" fill="#000"/>
<rect x="1298" y="154" width="5" height="7" fill="#000"/>
<rect x="1299" y="155" width="3" height="5" fill="#fff"/>
<rect x="1308" y="136" width="1" height="24" fill="#000"/>
<rect x="1306" y="150" width="5" height="4" fill="#000"/>
<rect x="1307" y="151" width="3" height="2" fill="#fff"/>
<rect x="1316" y="146" width="1" height="3" fill="#000"/>
<rect x="1314" y="146" width="5" height="3" fill="#000"/>
<rect x="1315" y="147" width="3" height="1" fill="#fff"/>
<rect x="1324" y="141" width="1" height="13" fill="#000"/>
<rect x="1322" y="145" width="5" height="1" fill="#000"/>
<rect x="1332" y="108" width="1" height="38" fill="#000"/>
<rect x="1330" y="109" width="5" height="37" fill="#000"/>
<rect x="1331" y="110" width="3" height="35" fill="#fff"/>
<rect x="1340" y="105" width="1" height="45" fill="#000"/>
<rect x="1338" y="109" width="5" height="36" fill="#000"/>
<rect x="1348" y="116" width="1" height="40" fill="#000"/>
<rect x="1346" y="117" width="5" height="27" fill="#000"/>
<rect x="1347" y="118" width="3" height="25" fill="#fff"/>
<rect x="1356" y="108" width="1" height="50" fill="#000"/>
<rect x="1354" y="117" width="5" height="32" fill="#000"/>
<rect x="1364" y="146" width="1" height="4" fill="#000"/>
<rect x="1362" y="147" width="5" height="2" fill="#000"/>
<rect x="1372" y="135" width="1" height="24" fill="#000"/>
<rect x="1370" y="149" width="5" height="6" fill="#000"/>
<rect x="1380" y="129" width="1" height="29" fill="#000"/>
<rect x="1378" y="134" width="5" height="20" fill="#000"/>
<rect x="1379" y="135" width="3" height="18" fill="#fff"/>
<rect x="1388" y="116" width="1" height="27" fill="#000"/>
<rect x="1386" y="117" width="5" height="18" fill="#000"/>
<rect x="1387" y="118" width="3" height="16" fill="#fff"/>
<rect x="1396" y="101" width="1" height="32" fill="#000"/>
<rect x="1394" y="117" width="5" height="6" fill="#000"/>
<rect x="1404" y="83" width="1" height="43" fill="#000"/>
<rect x="1402" y="87" width="5" height="36" fill="#000"/>
<rect x="1403" y="88" width="3" height="34" fill="#fff"/>
<rect x="1412" y="83" width="1" height="4" fill="#000"/>
<rect x="1410" y="84" width="5" height="3" fill="#000"/>
<rect x="1411" y="85" width="3" height="1" fill="#fff"/>
<rect x="1420" y="73" width="1" height="25" fill="#000"/>
<rect x="1418" y="82" width="5" height="3" fill="#000"/>
<rect x="1419" y="83" width="3" height="1" fill="#fff"/>
<rect x="1428" y="52" width="1" height="32" fill="#000"/>
<rect x="1426" y="73" width="5" height="8" fill="#000"/>
<rect x="1427" y="74" width="3" height="6" fill="#fff"/>
<rect x="1436" y="72" width="1" height="30" fill="#000"/>
<rect x="1434" y="73" width="5" height="13" fill="#000"/>
<rect x="1444" y="85" width="1" height="27" fill="#000"/>
<rect x="1442" y="85" width="5" height="22" fill="#000"/>
<rect x="1452" y="93" width="1" height="36" fill="#000"/>
<rect x="1450" y="101" width="5" height="5" fill="#000"/>
<rect x="1451" y="102" width="3" height="3" fill="#fff"/>
<rect x="1460" y="108" width="1" height="4" fill="#000"/>
<rect x="1458" y="109" width="5" height="2" fill="#000"/>
<rect x="1468" y="108" width="1" height="30" fill="#000"/>
<rect x="1466" y="110" width="5" height="23" fill="#000"/>
<rect x="1476" y="130" width="1" height="55" fill="#000"/>
<rect x="1474" y="132" width="5" height="49" fill="#000"/>
<rect x="1484" y="166" width="1" height="32" fill="#000"/>
<rect x="1482" y="172" width="5" height="8" fill="#000"/>
<rect x="1483" y="173" width="3" height="6" fill="#fff"/>
<rect x="1492" y="163" width="1" height="65" fill="#000"/>
<rect x="1490" y="172" width="5" height="48" fill="#000"/>
<rect x="1500" y="205" width="1" height="26" fill="#000"/>
<rect x="1498" y="219" width="5" height="5" fill="#000"/>
</g>
<g clip-path="url(#c2)">
<rect x="4" y="635" width="1" height="1" fill="#c0c0c0"/>
<rect x="12" y="635" width="1" height="4" fill="#c0c0c0"/>
<rect x="20" y="635" width="1" height="8" fill="#c0c0c0"/>
<rect x="28" y="635" width="1" height="10" fill="#c0c0c0"/>
<rect x="36" y="635" width="1" height="12" fill="#c0c0c0"/>
<rect x="44" y="635" width="1" height="12" fill="#c0c0c0"/>
<rect x="52" y="635" width="1" height="11" fill="#c0c0c0"/>
<rect x="60" y="635" width="1" height="9" fill="#c0c0c0"/>
<rect x="68" y="635" width="1" height="7" fill="#c0c0c0"/>
<rect x="76" y="635" width="1" height="6" fill="#c0c0c0"/>
<rect x="84" y="635" width="1" height="5" fill="#c0c0c0"/>
<rect x="92" y="635" width="1" height="5" fill="#c0c0c0"/>
<rect x="100" y="635" width="1" height="6" fill="#c0c0c0"/>
<rect x="108" y="635" width="1" height="9" fill="#c0c0c0"/>
<rect x="116" y="635" width="1" height="8" fill="#c0c0c0"/>
<rect x="124" y="635" width="1" height="8" fill="#c0c0c0"/>
<rect x="132" y="635" width="1" height="8" fill="#c0c0c0"/>
<rect x="140" y="635" width="1" height="7" fill="#c0c0c0"/>
<rect x="148" y="635" width="1" height="8" fill="#c0c0c0"/>
<rect x="156" y="635" width="1" height="9" fill="#c0c0c0"/>
<rect x="164" y="635" width="1" height="12" fill="#c0c0c0"/>
<rect x="172" y="635" width="1" height="14" fill="#c0c0c0"/>
<rect x="180" y="635" width="1" height="16" fill="#c0c0c0"/>
<rect x="188" y="635" width="1" height="17" fill="#c0c0c0"/>
<rect x="196" y="635" width="1" height="16" fill="#c0c0c0"/>
<rect x="204" y="635" width="1" height="13" fill="#c0c0c0"/>
<rect x="212" y="635" width="1" height="9" fill="#c0c0c0"/>
<rect x="220" y="635" width="1" height="4" fill="#c0c0c0"/>
<rect x="228" y="635" width="1" height="1" fill="#c0c0c0"/>
<rect x="236" y="635" width="1" height="1" fill="#c0c0c0"/>
<rect x="244" y="635" width="1" height="4" fill="#c0c0c0"/>
<rect x="252" y="635" width="1" height="12" fill="#c0c0c0"/>
<rect x="260" y="635" width="1" height="25" fill="#c0c0c0"/>
<rect x="268" y="635" width="1" height="32" fill="#c0c0c0"/>
<rect x="276" y="635" width="1" height="41" fill="#c0c0c0"/>
<rect x="284" y="635" width="1" height="51" fill="#c0c0c0"/>
<rect x="292" y="635" width="1" height="70" fill="#c0c0c0"/>
<rect x="300" y="635" width="1" height="87" fill="#c0c0c0"/>
<rect x="308" y="635" width="1" height="98" fill="#c0c0c0"/>
<rect x="316" y="635" width="1" height="104" fill="#c0c0c0"/>
<rect x="324" y="635" width="1" height="108" fill="#c0c0c0"/>
<rect x="332" y="635" width="1" height="105" fill="#c0c0c0"/>
<rect x="340" y="635" width="1" height="101" fill="#c0c0c0"/>
<rect x="348" y="635" width="1" height="87" fill="#c0c0c0"/>
<rect x="356" y="635" width="1" height="69" fill="#c0c0c0"/>
<rect x="364" y="635" width="1" height="55" fill="#c0c0c0"/>
<rect x="372" y="635" width="1" height="45" fill="#c0c0c0"/>
<rect x="380" y="635" width="1" height="36" fill="#c0c0c0"/>
<rect x="388" y="635" width="1" height="29" fill="#c0c0c0"/>
<rect x="396" y="635" width="1" height="23" fill="#c0c0c0"/>
<rect x="404" y="635" width="1" height="21" fill="#c0c0c0"/>
<rect x="412" y="635" width="1" height="20" fill="#c0c0c0"/>
<rect x="420" y="635" width="1" height="19" fill="#c0c0c0"/>
<rect x="428" y="635" width="1" height="16" fill="#c0c0c0"/>
<rect x="436" y="635" width="1" height="11" fill="#c0c0c0"/>
<rect x="444" y="635" width="1" height="6" fill="#c0c0c0"/>
<rect x="452" y="635" width="1" height="2" fill="#c0c0c0"/>
<rect x="460" y="634" width="1" height="2" fill="#c0c0c0"/>
<rect x="468" y="627" width="1" height="9" fill="#c0c0c0"/>
<rect x="476" y="625" width="1" height="11" fill="#c0c0c0"/>
<rect x="484" y="624" width="1" height="12" fill="#c0c0c0"/>
<rect x="492" y="624" width="1" height="12" fill="#c0c0c0"/>
<rect x="500" y="624" width="1" height="12" fill="#c0c0c0"/>
<rect x="508" y="625" width="1" height="11" fill="#c0c0c0"/>
<rect x="516" y="629" width="1" height="7" fill="#c0c0c0"/>
<rect x="524" y="632" width="1" height="4" fill="#c0c0c0"/>
<rect x="532" y="634" width="1" height="2" fill="#c0c0c0"/>
<rect x="540" y="635" width="1" height="1" fill="#c0c0c0"/>
<rect x="548" y="635" width="1" height="1" fill="#c0c0c0"/>
<rect x="556" y="635" width="1" height="1" fill="#c0c0c0"/>
<rect x="564" y="634" width="1" height="2" fill="#c0c0c0"/>
<rect x="572" y="632" width="1" height="4" fill="#c0c0c0"/>
<rect x="580" y="629" width="1" height="7" fill="#c0c0c0"/>
<rect x="588" y="628" width="1" height="8" fill="#c0c0c0"/>
<rect x="596" y="628" width="1" height="8" fill="#c0c0c0"/>
<rect x="604" y="629" width="1" height="7" fill="#c0c0c0"/>
<rect x="612" y="629" width="1" height="7" fill="#c0c0c0"/>
<rect x="620" y="633" width="1" height="3" fill="#c0c0c0"/>
<rect x="628" y="634" width="1" height="2" fill="#c0c0c0"/>
<rect x="636" y="635" width="1" height="1" fill="#c0c0c0"/>
<rect x="644" y="635" width="1" height="1" fill="#c0c0c0"/>
<rect x="652" y="635" width="1" height="1" fill="#c0c0c0"/>
<rect x="660" y="635" width="1" height="4" fill="#c0c0c0"/>
<rect x="668" y="635" width="1" height="7" fill="#c0c0c0"/>
<rect x="676" y="635" width="1" height="10" fill="#c0c0c0"/>
<rect x="684" y="635" width="1" height="14" fill="#c0c0c0"/>
<rect x="692" y="635" width="1" height="19" fill="#c0c0c0"/>
<rect x="700" y="635" width="1" height="19" fill="#c0c0c0"/>
<rect x="708" y="635" width="1" height="18" fill="#c0c0c0"/>
<rect x="716" y="635" width="1" height="17" fill="#c0c0c0"/>
<rect x="724" y="635" width="1" height="16" fill="#c0c0c0"/>
<rect x="732" y="635" width="1" height="17" fill="#c0c0c0"/>
<rect x="740" y="635" width="1" height="17" fill="#c0c0c0"/>
<rect x="748" y="635" width="1" height="17" fill="#c0c0c0"/>
<rect x="756" y="635" width="1" height="13" fill="#c0c0c0"/>
<rect x="764" y="635" width="1" height="11" fill="#c0c0c0"/>
<rect x="772" y="635" width="1" height="9" fill="#c0c0c0"/>
<rect x="780" y="635" width="1" height="7" fill="#c0c0c0"/>
<rect x="788" y="635" width="1" height="4" fill="#c0c0c0"/>
<rect x="796" y="635" width="1" height="1" fill="#c0c0c0"/>
<rect x="804" y="629" width="1" height="7" fill="#c0c0c0"/>
<rect x="812" y="624" width="1" height="12" fill="#c0c0c0"/>
<rect x="820" y="620" width="1" height="16" fill="#c0c0c0"/>
<rect x="828" y="615" width="1" height="21" fill="#c0c0c0"/>
<rect x="836" y="610" width="1" height="26" fill="#c0c0c0"/>
<rect x="844" y="607" width="1" height="29" fill="#c0c0c0"/>
<rect x="852" y="604" width="1" height="32" fill="#c0c0c0"/>
<rect x="860" y="603" width="1" height="33" fill="#c0c0c0"/>
<rect x="868" y="606" width="1" height="30" fill="#c0c0c0"/>
<rect x="876" y="610" width="1" height="26" fill="#c0c0c0"/>
<rect x="884" y="614" width="1" height="22" fill="#c0c0c0"/>
<rect x="892" y="613" width="1" height="23" fill="#c0c0c0"/>
<rect x="900" y="615" width="1" height="21" fill="#c0c0c0"/>
<rect x="908" y="617" width="1" height="19" fill="#c0c0c0"/>
<rect x="916" y="622" width="1" height="14" fill="#c0c0c0"/>
<rect x="924" y="627" width="1" height="9" fill="#c0c0c0"/>
<rect x="932" y="632" width="1" height="4" fill="#c0c0c0"/>
<rect x="940" y="632" width="1" height="4" fill="#c0c0c0"/>
<rect x="948" y="632" width="1" height="4" fill="#c0c0c0"/>
<rect x="956" y="634" width="1" height="2" fill="#c0c0c0"/>
<rect x="964" y="635" width="1" height="1" fill="#c0c0c0"/>
<rect x="972" y="635" width="1" height="3" fill="#c0c0c0"/>
<rect x="980" y="635" width="1" height="5" fill="#c0c0c0"/>
<rect x="988" y="635" width="1" height="8" fill="#c0c0c0"/>
<rect x="996" y="635" width="1" height="8" fill="#c0c0c0"/>
<rect x="1004" y="635" width="1" height="6" fill="#c0c0c0"/>
<rect x="1012" y="635" width="1" height="5" fill="#c0c0c0"/>
<rect x="1020" y="635" width="1" height="3" fill="#c0c0c0"/>
<rect x="1028" y="635" width="1" height="2" fill="#c0c0c0"/>
<rect x="1036" y="635" width="1" height="1" fill="#c0c0c0"/>
<rect x="1044" y="635" width="1" height="1" fill="#c0c0c0"/>
<rect x="1052" y="631" width="1" height="5" fill="#c0c0c0"/>
<rect x="1060" y="629" width="1" height="7" fill="#c0c0c0"/>
<rect x="1068" y="626" width="1" height="10" fill="#c0c0c0"/>
<rect x="1076" y="624" width="1" height="12" fill="#c0c0c0"/>
<rect x="1084" y="625" width="1" height="11" fill="#c0c0c0"/>
<rect x="1092" y="625" width="1" height="11" fill="#c0c0c0"/>
<rect x="1100" y="625" width="1" height="11" fill="#c0c0c0"/>
<rect x="1108" y="626" width="1" height="10" fill="#c0c0c0"/>
<rect x="1116" y="626" width="1" height="10" fill="#c0c0c0"/>
<rect x="1124" y="626" width="1" height="10" fill="#c0c0c0"/>
<rect x="1132" y="625" width="1" height="11" fill="#c0c0c0"/>
<rect x="1140" y="622" width="1" height="14" fill="#c0c0c0"/>
<rect x="1148" y="620" width="1" height="16" fill="#c0c0c0"/>
<rect x="1156" y="618" width="1" height="18" fill="#c0c0c0"/>
<rect x="1164" y="616" width="1" height="20" fill="#c0c0c0"/>
<rect x="1172" y="614" width="1" height="22" fill="#c0c0c0"/>
<rect x="1180" y="611" width="1" height="25" fill="#c0c0c0"/>
<rect x="1188" y="607" width="1" height="29" fill="#c0c0c0"/>
<rect x="1196" y="604" width="1" height="32" fill="#c0c0c0"/>
<rect x="1204" y="598" width="1" height="38" fill="#c0c0c0"/>
<rect x="1212" y="595" width="1" height="41" fill="#c0c0c0"/>
<rect x="1220" y="592" width="1" height="44" fill="#c0c0c0"/>
<rect x="1228" y="591" width="1" height="45" fill="#c0c0c0"/>
<rect x="1236" y="591" width="1" height="45" fill="#c0c0c0"/>
<rect x="1244" y="591" width="1" height="45" fill="#c0c0c0"/>
<rect x="1252" y="590" width="1" height="46" fill="#c0c0c0"/>
<rect x="1260" y="593" width="1" height="43" fill="#c0c0c0"/>
<rect x="1268" y="595" width="1" height="41" fill="#c0c0c0"/>
<rect x="1276" y="597" width="1" height="39" fill="#c0c0c0"/>
<rect x="1284" y="599" width="1" height="37" fill="#c0c0c0"/>
<rect x="1292" y="601" width="1" height="35" fill="#c0c0c0"/>
<rect x="1300" y="603" width="1" height="33" fill="#c0c0c0"/>
<rect x="1308" y="604" width="1" height="32" fill="#c0c0c0"/>
<rect x="1316" y="605" width="1" height="31" fill="#c0c0c0"/>
<rect x="1324" y="606" width="1" height="30" fill="#c0c0c0"/>
<rect x="1332" y="604" width="1" height="32" fill="#c0c0c0"/>
<rect x="1340" y="606" width="1" height="30" fill="#c0c0c0"/>
<rect x="1348" y="605" width="1" height="31" fill="#c0c0c0"/>
<rect x="1356" y="608" width="1" height="28" fill="#c0c0c0"/>
<rect x="1364" y="610" width="1" height="26" fill="#c0c0c0"/>
<rect x="1372" y="613" width="1" height="23" fill="#c0c0c0"/>
<rect x="1380" y="614" width="1" height="22" fill="#c0c0c0"/>
<rect x="1388" y="613" width="1" height="23" fill="#c0c0c0"/>
<rect x="1396" y="613" width="1" height="23" fill="#c0c0c0"/>
<rect x="1404" y="610" width="1" height="26" fill="#c0c0c0"/>
<rect x="1412" y="607" width="1" height="29" fill="#c0c0c0"/>
<rect x="1420" y="606" width="1" height="30" fill="#c0c0c0"/>
<rect x="1428" y="604" width="1" height="32" fill="#c0c0c0"/>
<rect x="1436" y="604" width="1" height="32" fill="#c0c0c0"/>
<rect x="1444" y="606" width="1" height="30" fill="#c0c0c0"/>
<rect x="1452" y="608" width="1" height="28" fill="#c0c0c0"/>
<rect x="1460" y="610" width="1" height="26" fill="#c0c0c0"/>
<rect x="1468" y="615" width="1" height="21" fill="#c0c0c0"/>
<rect x="1476" y="623" width="1" height="13" fill="#c0c0c0"/>
<rect x="1484" y="629" width="1" height="7" fill="#c0c0c0"/>
<rect x="1492" y="635" width="1" height="2" fill="#c0c0c0"/>
<rect x="1500" y="635" width="1" height="10" fill="#c0c0c0"/>
<polyline points="-3.5,635.1 4.5,635.1 12.5,635.6 20.5,636.5 28.5,637.7 36.5,639.1 44.5,640.4 52.5,641.8 60.5,642.8 68.5,643.7 76.5,644.3 84.5,644.4 92.5,644.1 100.5,643.6 108.5,643.3 116.5,642.9 124.5,642.5 132.5,642.4 140.5,642.4 148.5,642.7 156.5,643.1 164.5,643.9 172.5,644.8 180.5,645.6 188.5,646.6 196.5,647.4 204.5,647.9 212.5,648.1 220.5,647.6 228.5,646.6 236.5,645.4 244.5,644.3 252.5,643.9 260.5,644.8 268.5,646.7 276.5,649.8 284.5,654.5 292.5,661.9 300.5,671.6 308.5,682.3 316.5,693.4 324.5,704.0 332.5,712.9 340.5,720.5 348.5,725.7 356.5,727.7 364.5,726.0 372.5,721.4 380.5,714.5 388.5,706.2 396.5,696.8 404.5,687.4 412.5,678.5 420.5,670.9 428.5,664.9 436.5,660.1 444.5,655.8 452.5,652.0 460.5,648.5 468.5,645.0 476.5,641.5 484.5,637.9 492.5,634.4 500.5,631.3 508.5,628.8 516.5,627.3 524.5,626.5 532.5,626.5 540.5,627.4 548.5,628.5 556.5,629.7 564.5,630.8 572.5,631.8 580.5,632.2 588.5,632.1 596.5,631.7 604.5,631.2 612.5,630.5 620.5,630.2 628.5,630.2 636.5,630.2 644.5,630.5 652.5,631.4 660.5,632.8 668.5,634.5 676.5,636.4 684.5,638.7 692.5,641.2 700.5,643.5 708.5,645.6 716.5,647.6 724.5,649.4 732.5,650.8 740.5,651.9 748.5,652.6 756.5,652.5 764.5,651.7 772.5,650.5 780.5,649.3 788.5,647.9 796.5,645.9 804.5,643.2 812.5,639.9 820.5,636.3 828.5,632.5 836.5,628.3 844.5,624.1 852.5,619.8 860.5,615.7 868.5,612.5 876.5,610.5 884.5,609.3 892.5,608.7 900.5,608.7 908.5,609.4 916.5,611.1 924.5,613.7 932.5,616.9 940.5,619.8 948.5,622.2 956.5,624.5 964.5,627.0 972.5,629.7 980.5,632.4 988.5,634.9 996.5,636.8 1004.5,637.9 1012.5,638.8 1020.5,639.7 1028.5,640.1 1036.5,640.2 1044.5,639.7 1052.5,638.6 1060.5,636.8 1068.5,634.8 1076.5,632.8 1084.5,631.1 1092.5,629.5 1100.5,628.0 1108.5,626.8 1116.5,625.8 1124.5,625.3 1132.5,624.9 1140.5,624.4 1148.5,623.8 1156.5,623.1 1164.5,622.1 1172.5,620.8 1180.5,619.2 1188.5,617.1 1196.5,614.6 1204.5,611.7 1212.5,608.7 1220.5,605.7 1228.5,602.7 1236.5,600.0 1244.5,597.4 1252.5,595.1 1260.5,593.4 1268.5,592.4 1276.5,592.2 1284.5,592.7 1292.5,593.7 1300.5,595.0 1308.5,596.4 1316.5,598.1 1324.5,599.9 1332.5,601.1 1340.5,602.4 1348.5,603.3 1356.5,604.3 1364.5,605.3 1372.5,606.5 1380.5,607.5 1388.5,608.3 1396.5,609.1 1404.5,609.7 1412.5,609.9 1420.5,609.9 1428.5,609.4 1436.5,608.7 1444.5,607.9 1452.5,607.2 1460.5,606.9 1468.5,607.1 1476.5,608.6 1484.5,611.0 1492.5,614.6 1500.5,619.3" fill="none" stroke="#ff0000" stroke-width="1" stroke-dasharray="3 3"/>
</g>
<g clip-path="url(#c3)">
<line x1="3" x2="1689" y1="788.5" y2="788.5" stroke="#c0c0c0" stroke-width="1" stroke-dasharray="3 3"/>
<line x1="3" x2="1689" y1="839.5" y2="839.5" stroke="#c0c0c0" stroke-width="1" stroke-dasharray="3 3"/>
<line x1="3" x2="1689" y1="900.5" y2="900.5" stroke="#c0c0c0" stroke-width="1" stroke-dasharray="3 3"/>
<polyline points="-3.5,844.3 4.5,848.6 12.5,856.8 20.5,861.2 28.5,861.2 36.5,856.6 44.5,849.3 52.5,849.0 60.5,834.9 68.5,836.5 76.5,834.5 84.5,841.7 92.5,843.0 100.5,854.1 108.5,860.0 116.5,844.0 124.5,846.6 132.5,850.5 140.5,838.4 148.5,851.3 156.5,853.3 164.5,863.8 172.5,861.4 180.5,865.4 188.5,856.6 196.5,848.1 204.5,837.4 212.5,829.4 220.5,821.1 228.5,824.0 236.5,845.2 244.5,853.9 252.5,871.2 260.5,883.4 268.5,873.8 276.5,879.3 284.5,884.6 292.5,896.9 300.5,898.9 308.5,892.2 316.5,888.4 324.5,888.8 332.5,872.5 340.5,867.9 348.5,845.7 356.5,832.0 364.5,833.4 372.5,837.7 380.5,836.1 388.5,837.3 396.5,836.8 404.5,843.9 412.5,846.9 420.5,846.0 428.5,838.8 436.5,835.4 444.5,831.3 452.5,830.8 460.5,827.0 468.5,820.6 476.5,829.5 484.5,832.2 492.5,832.3 500.5,832.6 508.5,836.9 516.5,848.7 524.5,847.1 532.5,844.3 540.5,844.0 548.5,842.3 556.5,836.4 564.5,835.2 572.5,831.1 580.5,820.8 588.5,832.5 596.5,835.7 604.5,837.1 612.5,837.1 620.5,850.6 628.5,844.8 636.5,840.3 644.5,839.6 652.5,849.5 660.5,857.2 668.5,858.8 676.5,859.1 684.5,869.8 692.5,872.4 700.5,855.0 708.5,847.7 716.5,849.6 724.5,851.2 732.5,856.4 740.5,854.7 748.5,852.5 756.5,834.6 764.5,842.5 772.5,836.4 780.5,835.4 788.5,832.7 796.5,818.1 804.5,810.5 812.5,811.2 820.5,808.9 828.5,803.9 836.5,800.6 844.5,799.5 852.5,803.5 860.5,803.7 868.5,827.5 876.5,838.3 884.5,836.0 892.5,822.8 900.5,830.1 908.5,834.1 916.5,848.2 924.5,854.6 932.5,855.4 940.5,837.9 948.5,835.5 956.5,846.7 964.5,845.7 972.5,853.1 980.5,853.1 988.5,856.2 996.5,846.5 1004.5,837.7 1012.5,837.3 1020.5,836.2 1028.5,836.4 1036.5,833.8 1044.5,828.0 1052.5,819.8 1060.5,820.7 1068.5,818.8 1076.5,818.4 1084.5,831.8 1092.5,830.0 1100.5,827.1 1108.5,832.7 1116.5,831.2 1124.5,830.8 1132.5,817.5 1140.5,809.6 1148.5,809.8 1156.5,809.5 1164.5,803.0 1172.5,802.4 1180.5,794.0 1188.5,791.3 1196.5,787.7 1204.5,780.4 1212.5,782.7 1220.5,783.8 1228.5,789.0 1236.5,788.6 1244.5,786.2 1252.5,785.1 1260.5,807.3 1268.5,808.0 1276.5,805.0 1284.5,811.1 1292.5,812.1 1300.5,809.3 1308.5,806.8 1316.5,804.8 1324.5,804.3 1332.5,790.0 1340.5,821.1 1348.5,810.4 1356.5,829.5 1364.5,829.4 1372.5,833.0 1380.5,824.2 1388.5,817.4 1396.5,820.2 1404.5,808.3 1412.5,807.3 1420.5,806.7 1428.5,803.8 1436.5,812.1 1444.5,825.8 1452.5,823.6 1460.5,829.3 1468.5,841.5 1476.5,860.9 1484.5,857.0 1492.5,870.7 1500.5,871.9" fill="none" stroke="#1e90ff" stroke-width="1"/>
</g>
<rect x="0" y="25" width="1690" height="1" fill="#000"/>
<rect x="1689" y="25" width="1" height="902" fill="#000"/>
<rect x="0" y="578" width="1690" height="1" fill="#000"/>
<rect x="0" y="580" width="1690" height="1" fill="#000"/>
<rect x="0" y="750" width="1690" height="1" fill="#000"/>
<rect x="0" y="752" width="1690" height="1" fill="#000"/>
<rect x="0" y="926" width="1690" height="1" fill="#000"/>
<rect x="1689" y="579" width="1" height="1" fill="#fff"/>
<rect x="1689" y="751" width="1" height="1" fill="#fff"/>
<rect x="1735" y="22" width="1" height="920" fill="#d4d4d4"/>
<rect x="1514" y="26" width="9" height="1" fill="#c0c0c0"/>
<rect x="1515" y="27" width="7" height="1" fill="#c0c0c0"/>
<rect x="1516" y="28" width="5" height="1" fill="#c0c0c0"/>
<rect x="1517" y="29" width="3" height="1" fill="#c0c0c0"/>
<rect x="1518" y="30" width="1" height="1" fill="#c0c0c0"/>
<rect x="1690" y="47" width="2" height="1" fill="#000"/>
<rect x="1690" y="80" width="2" height="1" fill="#000"/>
<rect x="1690" y="113" width="2" height="1" fill="#000"/>
<rect x="1690" y="146" width="2" height="1" fill="#000"/>
<rect x="1690" y="179" width="2" height="1" fill="#000"/>
<rect x="1690" y="212" width="2" height="1" fill="#000"/>
<rect x="1690" y="245" width="2" height="1" fill="#000"/>
<rect x="1690" y="278" width="2" height="1" fill="#000"/>
<rect x="1690" y="311" width="2" height="1" fill="#000"/>
<rect x="1690" y="344" width="2" height="1" fill="#000"/>
<rect x="1690" y="377" width="2" height="1" fill="#000"/>
<rect x="1690" y="410" width="2" height="1" fill="#000"/>
<rect x="1690" y="443" width="2" height="1" fill="#000"/>
<rect x="1690" y="476" width="2" height="1" fill="#000"/>
<rect x="1690" y="509" width="2" height="1" fill="#000"/>
<rect x="1690" y="542" width="2" height="1" fill="#000"/>
<rect x="1690" y="575" width="2" height="1" fill="#000"/>
<rect x="1690" y="582" width="1" height="1" fill="#000"/>
<rect x="1690" y="635" width="2" height="1" fill="#000"/>
<rect x="1690" y="749" width="1" height="1" fill="#000"/>
<rect x="1690" y="754" width="1" height="1" fill="#000"/>
<rect x="1690" y="925" width="1" height="1" fill="#000"/>
<rect x="1689" y="788" width="1" height="1" fill="#fff"/>
<rect x="1689" y="839" width="1" height="1" fill="#fff"/>
<rect x="1689" y="900" width="1" height="1" fill="#fff"/>
<rect x="60" y="927" width="1" height="3" fill="#000"/>
<rect x="124" y="927" width="1" height="3" fill="#000"/>
<rect x="188" y="927" width="1" height="3" fill="#000"/>
<rect x="252" y="927" width="1" height="3" fill="#000"/>
<rect x="316" y="927" width="1" height="3" fill="#000"/>
<rect x="380" y="927" width="1" height="3" fill="#000"/>
<rect x="444" y="927" width="1" height="3" fill="#000"/>
<rect x="508" y="927" width="1" height="3" fill="#000"/>
<rect x="572" y="927" width="1" height="3" fill="#000"/>
<rect x="636" y="927" width="1" height="3" fill="#000"/>
<rect x="700" y="927" width="1" height="3" fill="#000"/>
<rect x="764" y="927" width="1" height="3" fill="#000"/>
<rect x="828" y="927" width="1" height="3" fill="#000"/>
<rect x="892" y="927" width="1" height="3" fill="#000"/>
<rect x="956" y="927" width="1" height="3" fill="#000"/>
<rect x="1020" y="927" width="1" height="3" fill="#000"/>
<rect x="1084" y="927" width="1" height="3" fill="#000"/>
<rect x="1148" y="927" width="1" height="3" fill="#000"/>
<rect x="1212" y="927" width="1" height="3" fill="#000"/>
<rect x="1276" y="927" width="1" height="3" fill="#000"/>
<rect x="1340" y="927" width="1" height="3" fill="#000"/>
<rect x="1404" y="927" width="1" height="3" fill="#000"/>
<rect x="1468" y="927" width="1" height="3" fill="#000"/>
</svg>
<svg width="1736" height="942" viewBox="0 0 1736 942" style="position:absolute;left:0;top:0" font-family='"Liberation Sans", sans-serif' font-size="10"><text x="1695" y="51" fill="#000" stroke="#000" stroke-width="0.35" textLength="33" lengthAdjust="spacingAndGlyphs">1.35040</text><text x="1695" y="84" fill="#000" stroke="#000" stroke-width="0.35" textLength="33" lengthAdjust="spacingAndGlyphs">1.33680</text><text x="1695" y="117" fill="#000" stroke="#000" stroke-width="0.35" textLength="33" lengthAdjust="spacingAndGlyphs">1.32360</text><text x="1695" y="150" fill="#000" stroke="#000" stroke-width="0.35" textLength="33" lengthAdjust="spacingAndGlyphs">1.31000</text><text x="1695" y="216" fill="#000" stroke="#000" stroke-width="0.35" textLength="33" lengthAdjust="spacingAndGlyphs">1.28360</text><text x="1695" y="249" fill="#000" stroke="#000" stroke-width="0.35" textLength="33" lengthAdjust="spacingAndGlyphs">1.27040</text><text x="1695" y="282" fill="#000" stroke="#000" stroke-width="0.35" textLength="33" lengthAdjust="spacingAndGlyphs">1.25680</text><text x="1695" y="315" fill="#000" stroke="#000" stroke-width="0.35" textLength="33" lengthAdjust="spacingAndGlyphs">1.24360</text><text x="1695" y="348" fill="#000" stroke="#000" stroke-width="0.35" textLength="33" lengthAdjust="spacingAndGlyphs">1.23000</text><text x="1695" y="381" fill="#000" stroke="#000" stroke-width="0.35" textLength="33" lengthAdjust="spacingAndGlyphs">1.21680</text><text x="1695" y="414" fill="#000" stroke="#000" stroke-width="0.35" textLength="33" lengthAdjust="spacingAndGlyphs">1.20320</text><text x="1695" y="447" fill="#000" stroke="#000" stroke-width="0.35" textLength="33" lengthAdjust="spacingAndGlyphs">1.19000</text><text x="1695" y="480" fill="#000" stroke="#000" stroke-width="0.35" textLength="33" lengthAdjust="spacingAndGlyphs">1.17680</text><text x="1695" y="513" fill="#000" stroke="#000" stroke-width="0.35" textLength="33" lengthAdjust="spacingAndGlyphs">1.16320</text><text x="1695" y="546" fill="#000" stroke="#000" stroke-width="0.35" textLength="33" lengthAdjust="spacingAndGlyphs">1.15000</text><text x="1695" y="579" fill="#000" stroke="#000" stroke-width="0.35" textLength="33" lengthAdjust="spacingAndGlyphs">1.13680</text><rect x="1691" y="152" width="41" height="11" fill="#ff0000" shape-rendering="crispEdges"/><text x="1695" y="161" fill="#fff" stroke="#fff" stroke-width="0.35" textLength="33" lengthAdjust="spacingAndGlyphs">1.30520</text><rect x="1691" y="176" width="41" height="11" fill="#ff4500" shape-rendering="crispEdges"/><text x="1695" y="185" fill="#fff" stroke="#fff" stroke-width="0.35" textLength="33" lengthAdjust="spacingAndGlyphs">1.29551</text><rect x="1691" y="197" width="41" height="11" fill="#32cd32" shape-rendering="crispEdges"/><text x="1695" y="206" fill="#fff" stroke="#fff" stroke-width="0.35" textLength="33" lengthAdjust="spacingAndGlyphs">1.28703</text><rect x="1691" y="218" width="41" height="11" fill="#000000" shape-rendering="crispEdges"/><text x="1695" y="226" fill="#fff" stroke="#fff" stroke-width="0.35" textLength="33" lengthAdjust="spacingAndGlyphs">1.27896</text><rect x="1691" y="237" width="41" height="11" fill="#0000ff" shape-rendering="crispEdges"/><text x="1695" y="246" fill="#fff" stroke="#fff" stroke-width="0.35" textLength="33" lengthAdjust="spacingAndGlyphs">1.27087</text><rect x="1691" y="262" width="41" height="11" fill="#0000ff" shape-rendering="crispEdges"/><text x="1695" y="271" fill="#fff" stroke="#fff" stroke-width="0.35" textLength="33" lengthAdjust="spacingAndGlyphs">1.26078</text><text x="1693" y="591" fill="#000" stroke="#000" stroke-width="0.35" textLength="38" lengthAdjust="spacingAndGlyphs">0.017833</text><text x="1693" y="639" fill="#000" stroke="#000" stroke-width="0.35" textLength="18" lengthAdjust="spacingAndGlyphs">0.00</text><text x="1693" y="747" fill="#000" stroke="#000" stroke-width="0.35" textLength="41" lengthAdjust="spacingAndGlyphs">-0.038559</text><text x="1693" y="763" fill="#000" stroke="#000" stroke-width="0.35" textLength="15" lengthAdjust="spacingAndGlyphs">100</text><text x="1692" y="792" fill="#000" stroke="#000" stroke-width="0.35" textLength="10" lengthAdjust="spacingAndGlyphs">80</text><text x="1692" y="843" fill="#000" stroke="#000" stroke-width="0.35" textLength="10" lengthAdjust="spacingAndGlyphs">50</text><text x="1692" y="904" fill="#000" stroke="#000" stroke-width="0.35" textLength="10" lengthAdjust="spacingAndGlyphs">15</text><text x="1692" y="923" fill="#000" stroke="#000" stroke-width="0.35" textLength="5" lengthAdjust="spacingAndGlyphs">0</text><path d="M0 36.5 L3 32 L6 36.5 Z" fill="#000"/><text x="11.3" y="37" fill="#000" stroke="#000" stroke-width="0.35" textLength="66" lengthAdjust="spacingAndGlyphs">GBPUSD-,Daily</text><text x="84.8" y="37" fill="#000" stroke="#000" stroke-width="0.35" textLength="139.7" lengthAdjust="spacingAndGlyphs">1.28082 1.28647 1.27614 1.27896</text><text x="1" y="592.5" fill="#000" stroke="#000" stroke-width="0.35" textLength="150" lengthAdjust="spacingAndGlyphs">MACD(12,26,9) -0.003305 0.005404</text><text x="1" y="765" fill="#000" stroke="#000" stroke-width="0.35" textLength="67" lengthAdjust="spacingAndGlyphs">RSI(14) 32.0307</text><text x="-4.6" y="938.5" fill="#000" stroke="#000" stroke-width="0.35" textLength="46.8" lengthAdjust="spacingAndGlyphs">5 Feb 2020</text><text x="59.4" y="938.5" fill="#000" stroke="#000" stroke-width="0.35" textLength="51.9" lengthAdjust="spacingAndGlyphs">13 Feb 2020</text><text x="123.4" y="938.5" fill="#000" stroke="#000" stroke-width="0.35" textLength="51.9" lengthAdjust="spacingAndGlyphs">23 Feb 2020</text><text x="187.4" y="938.5" fill="#000" stroke="#000" stroke-width="0.35" textLength="46.8" lengthAdjust="spacingAndGlyphs">3 Mar 2020</text><text x="251.4" y="938.5" fill="#000" stroke="#000" stroke-width="0.35" textLength="51.9" lengthAdjust="spacingAndGlyphs">12 Mar 2020</text><text x="315.4" y="938.5" fill="#000" stroke="#000" stroke-width="0.35" textLength="51.9" lengthAdjust="spacingAndGlyphs">22 Mar 2020</text><text x="379.4" y="938.5" fill="#000" stroke="#000" stroke-width="0.35" textLength="51.9" lengthAdjust="spacingAndGlyphs">31 Mar 2020</text><text x="443.4" y="938.5" fill="#000" stroke="#000" stroke-width="0.35" textLength="44.7" lengthAdjust="spacingAndGlyphs">9 Apr 2020</text><text x="507.4" y="938.5" fill="#000" stroke="#000" stroke-width="0.35" textLength="49.9" lengthAdjust="spacingAndGlyphs">20 Apr 2020</text><text x="571.4" y="938.5" fill="#000" stroke="#000" stroke-width="0.35" textLength="49.9" lengthAdjust="spacingAndGlyphs">29 Apr 2020</text><text x="635.4" y="938.5" fill="#000" stroke="#000" stroke-width="0.35" textLength="48.3" lengthAdjust="spacingAndGlyphs">8 May 2020</text><text x="699.4" y="938.5" fill="#000" stroke="#000" stroke-width="0.35" textLength="53.5" lengthAdjust="spacingAndGlyphs">18 May 2020</text><text x="763.4" y="938.5" fill="#000" stroke="#000" stroke-width="0.35" textLength="53.5" lengthAdjust="spacingAndGlyphs">27 May 2020</text><text x="827.4" y="938.5" fill="#000" stroke="#000" stroke-width="0.35" textLength="45.8" lengthAdjust="spacingAndGlyphs">5 Jun 2020</text><text x="891.4" y="938.5" fill="#000" stroke="#000" stroke-width="0.35" textLength="50.9" lengthAdjust="spacingAndGlyphs">15 Jun 2020</text><text x="955.4" y="938.5" fill="#000" stroke="#000" stroke-width="0.35" textLength="50.9" lengthAdjust="spacingAndGlyphs">24 Jun 2020</text><text x="1019.4" y="938.5" fill="#000" stroke="#000" stroke-width="0.35" textLength="42.7" lengthAdjust="spacingAndGlyphs">3 Jul 2020</text><text x="1083.4" y="938.5" fill="#000" stroke="#000" stroke-width="0.35" textLength="47.8" lengthAdjust="spacingAndGlyphs">13 Jul 2020</text><text x="1147.4" y="938.5" fill="#000" stroke="#000" stroke-width="0.35" textLength="47.8" lengthAdjust="spacingAndGlyphs">22 Jul 2020</text><text x="1211.4" y="938.5" fill="#000" stroke="#000" stroke-width="0.35" textLength="47.8" lengthAdjust="spacingAndGlyphs">31 Jul 2020</text><text x="1275.4" y="938.5" fill="#000" stroke="#000" stroke-width="0.35" textLength="52.0" lengthAdjust="spacingAndGlyphs">10 Aug 2020</text><text x="1339.4" y="938.5" fill="#000" stroke="#000" stroke-width="0.35" textLength="52.0" lengthAdjust="spacingAndGlyphs">19 Aug 2020</text><text x="1403.4" y="938.5" fill="#000" stroke="#000" stroke-width="0.35" textLength="52.0" lengthAdjust="spacingAndGlyphs">28 Aug 2020</text><text x="1467.4" y="938.5" fill="#000" stroke="#000" stroke-width="0.35" textLength="47.3" lengthAdjust="spacingAndGlyphs">7 Sep 2020</text><g shape-rendering="crispEdges"><rect x="1349" y="203" width="11" height="1" fill="#ff0000"/><rect x="1450" y="198" width="99" height="12" fill="#00ff00"/><rect x="1446" y="202" width="4" height="5" fill="#00ff00"/><rect x="1359.5" y="191.5" width="73" height="24" fill="#fff" stroke="#ff0000" stroke-width="1"/><line x1="1424.8" y1="53.8" x2="1512" y2="251" stroke="#ff0000" stroke-width="2.8"/><path d="M1506 250.5 L1515 246 L1515.5 259.5 Z" fill="#ff0000"/></g><text x="1362.2" y="211.5" fill="#ff0000" stroke="#ff0000" stroke-width="0.5" textLength="68.6" lengthAdjust="spacingAndGlyphs" font-size="22.5">1.28703</text><text x="1553" y="184.5" fill="#00ff00" font-size="22" font-weight="600" font-family='"Liberation Serif", "Noto Serif CJK SC", serif'>多空转折点</text></svg>
<div id="tb"></div><div id="tbl1"></div><div id="tbl2"></div><div id="tbl3"></div>
<svg width="1736" height="23" viewBox="0 0 1736 23" style="position:absolute;left:0;top:0" font-family='"Liberation Sans", "Noto Sans CJK SC", sans-serif'>
<defs><pattern id="chk" width="2" height="2" patternUnits="userSpaceOnUse"><rect width="2" height="2" fill="#f6f6f6"/><rect width="1" height="1" fill="#fff"/><rect x="1" y="1" width="1" height="1" fill="#fff"/></pattern><linearGradient id="gplus" x1="0" y1="0" x2="0" y2="1"><stop offset="0" stop-color="#a0f8a0"/><stop offset="1" stop-color="#10b010"/></linearGradient><linearGradient id="gold" x1="0" y1="0" x2="1" y2="1"><stop offset="0" stop-color="#ffe680"/><stop offset="0.5" stop-color="#e8b020"/><stop offset="1" stop-color="#a87008"/></linearGradient><radialGradient id="lens" cx="0.4" cy="0.35" r="0.7"><stop offset="0" stop-color="#f4fbff"/><stop offset="1" stop-color="#b4d8f4"/></radialGradient><linearGradient id="bub" x1="0" y1="0" x2="0" y2="1"><stop offset="0" stop-color="#ffffff"/><stop offset="0.55" stop-color="#fafafc"/><stop offset="1" stop-color="#dcdce8"/></linearGradient><linearGradient id="hat" x1="0" y1="0" x2="0" y2="1"><stop offset="0" stop-color="#7cc4ee"/><stop offset="1" stop-color="#2a78c0"/></linearGradient><linearGradient id="cnd" x1="0" y1="0" x2="1" y2="0"><stop offset="0" stop-color="#20c020"/><stop offset="0.5" stop-color="#80f080"/><stop offset="1" stop-color="#20c020"/></linearGradient><linearGradient id="clk" x1="0" y1="0" x2="0" y2="1"><stop offset="0" stop-color="#3a90e8"/><stop offset="1" stop-color="#0a48a8"/></linearGradient></defs>
<rect x="-2" y="2.5" width="14" height="13" rx="1.5" fill="#fff" stroke="#3a80c4" stroke-width="1.3"/>
<rect x="-2" y="2" width="3" height="14" fill="#3a80c4"/>
<rect x="2" y="4.0" width="1.3" height="1.2" fill="#ff2020"/><rect x="4" y="4.2" width="7" height="0.8" fill="#c8dcf8"/>
<rect x="2" y="6.0" width="1.3" height="1.2" fill="#204020"/><rect x="4" y="6.2" width="7" height="0.8" fill="#c8dcf8"/>
<rect x="2" y="8.0" width="1.3" height="1.2" fill="#204020"/><rect x="4" y="8.2" width="7" height="0.8" fill="#c8dcf8"/>
<rect x="2" y="10.0" width="1.3" height="1.2" fill="#ff2020"/><rect x="4" y="10.2" width="7" height="0.8" fill="#c8dcf8"/>
<rect x="25.5" y="1.5" width="12" height="13" rx="1" fill="#fff" stroke="#b0a890" stroke-width="1"/>
<path d="M28.5 3 V8 M27.5 7.5 H29 M28.5 4.5 H31 M34.5 3 V7 M34.5 4 H36" stroke="#707070" stroke-width="1" fill="none"/>
<circle cx="33.5" cy="10" r="5" fill="#e4f2fa" fill-opacity="0.9" stroke="#5a90d8" stroke-width="1.3"/>
<rect x="31.5" y="7" width="3" height="5" fill="#a8bcc8"/>
<path d="M37.5 14 L42 18" stroke="#c89810" stroke-width="3" stroke-linecap="butt"/>
<rect x="50" y="0" width="1" height="19" fill="#8c8c8c" shape-rendering="crispEdges"/>
<path d="M60.5 1.5 h8 l4 4 v9 h-12 Z" fill="#fff" stroke="#606060" stroke-width="1"/>
<path d="M68.5 1.5 v4 h4" fill="#e8e8e8" stroke="#606060" stroke-width="0.8"/>
<path d="M62.5 4.5 h3 M62.5 7.5 h5 M62.5 9.5 h4" stroke="#909090" stroke-width="1"/>
<path d="M69.3 7 h3.4 v4 h4 v3.4 h-4 v4 h-3.4 v-4 h-4 v-3.4 h4 Z" fill="url(#gplus)" stroke="#0c8c0c" stroke-width="0.8"/>
<text x="78.8" y="12" font-size="12" fill="#000" stroke="#000" stroke-width="0.3" textLength="36" lengthAdjust="spacingAndGlyphs">新订单</text>
<path d="M134 2.5 L142.8 9.8 L136.5 16.3 L127.3 11.5 Z" fill="url(#gold)" stroke="#a87408" stroke-width="0.8"/>
<path d="M127.3 11.5 L136.5 16.3 L142.8 9.8 L142.8 11.2 L136.6 17.5 L127.3 12.8 Z" fill="#b8820c"/>
<path d="M157.5 1.5 L166 1 L168.5 2.5 L168.5 10.5 L159.5 10.5 L157.5 9 Z" fill="#2a8ae6"/>
<path d="M157.5 1.5 L159.5 3 L159.5 10.5 L157.5 9 Z" fill="#9ad0ff"/>
<rect x="161" y="4" width="6" height="1.2" fill="#b8e0ff"/><rect x="161" y="6.5" width="3" height="1" fill="#d8f0ff"/>
<path d="M158 16.5 a3 3 0 0 1 0 -6 a4 4 0 0 1 7 -1.2 a3 3 0 0 1 4.5 2.2 a2.6 2.6 0 0 1 -0.5 5 Z" fill="#eef2f8" stroke="#6a90c8" stroke-width="1"/>
<g fill="none" stroke-width="1.2"><circle cx="191" cy="8.8" r="7.6" stroke="#c8d8ec"/><path d="M186.2 14.8 A7.6 7.6 0 0 1 186.2 2.8" stroke="#4a78d0"/><path d="M188.2 12.6 A4.8 4.8 0 0 1 188.2 5" stroke="#4a78d0"/><path d="M195.8 2.8 A7.6 7.6 0 0 1 191 16.4" stroke="#4aa84a"/><path d="M193.8 5 A4.8 4.8 0 0 1 191 13.6" stroke="#4aa84a"/></g>
<circle cx="191" cy="8.5" r="2" fill="#2a5cd0"/><rect x="190.4" y="9" width="1.4" height="7.5" fill="#1ea01e"/>
<path d="M212 7.5 L224.5 7.5 L219 16.5 L217 16 Z" fill="#f6d84a" stroke="#d8b020" stroke-width="0.6"/>
<ellipse cx="218" cy="6.2" rx="7.8" ry="2.6" fill="url(#hat)" stroke="#3a88c8" stroke-width="0.6"/>
<path d="M213.5 5.5 Q214 1 218 1.2 Q222 1 222.6 5.5 Z" fill="url(#hat)"/>
<circle cx="222.6" cy="12.6" r="4.3" fill="#e02010"/><rect x="220.8" y="10.8" width="3.6" height="3.6" fill="#fff"/>
<text x="231.9" y="12" font-size="12" fill="#000" stroke="#000" stroke-width="0.3" textLength="46.5" lengthAdjust="spacingAndGlyphs">自动交易</text>
<rect x="286" y="0" width="1" height="21" fill="#8c8c8c" shape-rendering="crispEdges"/>
<rect x="290" y="1" width="3" height="1" fill="#a6a6a6" shape-rendering="crispEdges"/>
<rect x="290" y="3" width="3" height="1" fill="#a6a6a6" shape-rendering="crispEdges"/>
<rect x="290" y="5" width="3" height="1" fill="#a6a6a6" shape-rendering="crispEdges"/>
<rect x="290" y="7" width="3" height="1" fill="#a6a6a6" shape-rendering="crispEdges"/>
<rect x="290" y="9" width="3" height="1" fill="#a6a6a6" shape-rendering="crispEdges"/>
<rect x="290" y="11" width="3" height="1" fill="#a6a6a6" shape-rendering="crispEdges"/>
<rect x="290" y="13" width="3" height="1" fill="#a6a6a6" shape-rendering="crispEdges"/>
<rect x="290" y="15" width="3" height="1" fill="#a6a6a6" shape-rendering="crispEdges"/>
<rect x="290" y="17" width="3" height="1" fill="#a6a6a6" shape-rendering="crispEdges"/>
<g stroke="#505050" stroke-width="1.2" fill="none"><path d="M304.5 3.5 V16.5 M301.5 14.5 H315.5"/></g>
<path d="M302.5 5.5 L304.5 2.8 L306.5 5.5 Z M314.0 12.5 L316.5 14.5 L314.0 16.5 Z" fill="#505050"/>
<path d="M310.8 4.5 V12.5 M310.8 5.4 H313.2 M308.2 11.6 H310.8" stroke="#1a8c1a" stroke-width="1.3" fill="none"/>
<rect x="324" y="0" width="1" height="19" fill="#8c8c8c" shape-rendering="crispEdges"/>
<rect x="325" y="0" width="24" height="19" fill="url(#chk)" shape-rendering="crispEdges"/>
<g stroke="#505050" stroke-width="1.2" fill="none"><path d="M332.5 3.5 V16.5 M329.5 14.5 H343.5"/></g>
<path d="M330.5 5.5 L332.5 2.8 L334.5 5.5 Z M342.0 12.5 L344.5 14.5 L342.0 16.5 Z" fill="#505050"/>
<path d="M338.5 1.2 V12.8" stroke="#0a7a0a" stroke-width="1.2"/><rect x="336.4" y="3.2" width="4.2" height="7.4" fill="url(#cnd)" stroke="#0a8a0a" stroke-width="0.9"/>
<g stroke="#505050" stroke-width="1.2" fill="none"><path d="M360.5 3.5 V16.5 M357.5 14.5 H371.5"/></g>
<path d="M358.5 5.5 L360.5 2.8 L362.5 5.5 Z M370.0 12.5 L372.5 14.5 L370.0 16.5 Z" fill="#505050"/>
<path d="M359 11.8 Q362 9 364 7 Q365.5 5.6 367 6.8 Q369 8.5 371 10.2" stroke="#1a8c1a" stroke-width="1.1" fill="none"/>
<rect x="381" y="0" width="1" height="19" fill="#8c8c8c" shape-rendering="crispEdges"/>
<path d="M400.2 10.8 L405.2 15.8" stroke="#d4a818" stroke-width="2.8"/>
<circle cx="396.2" cy="6.8" r="5.4" fill="url(#lens)" stroke="#3a72c8" stroke-width="1.3"/>
<path d="M393.2 6.8 H399.2" stroke="#3a7aa8" stroke-width="1.6"/>
<path d="M396.2 3.8 V9.8" stroke="#3a7aa8" stroke-width="1.6"/>
<path d="M428.2 10.8 L433.2 15.8" stroke="#d4a818" stroke-width="2.8"/>
<circle cx="424.2" cy="6.8" r="5.4" fill="url(#lens)" stroke="#3a72c8" stroke-width="1.3"/>
<path d="M421.2 6.8 H427.2" stroke="#3a7aa8" stroke-width="1.6"/>
<rect x="446" y="1" width="7.8" height="7.6" fill="#3a9a1a"/><rect x="447.3" y="4" width="5.2" height="3.6" fill="#fff"/><rect x="448.3" y="5.2" width="3.2" height="1" fill="#3a9a1a" fill-opacity="0.5"/>
<rect x="454.2" y="1" width="7.8" height="7.6" fill="#2050c8"/><rect x="455.5" y="4" width="5.2" height="3.6" fill="#fff"/><rect x="456.5" y="5.2" width="3.2" height="1" fill="#2050c8" fill-opacity="0.5"/>
<rect x="446" y="9" width="7.8" height="7.6" fill="#2050c8"/><rect x="447.3" y="12" width="5.2" height="3.6" fill="#fff"/><rect x="448.3" y="13.2" width="3.2" height="1" fill="#2050c8" fill-opacity="0.5"/>
<rect x="454.2" y="9" width="7.8" height="7.6" fill="#3a9a1a"/><rect x="455.5" y="12" width="5.2" height="3.6" fill="#fff"/><rect x="456.5" y="13.2" width="3.2" height="1" fill="#3a9a1a" fill-opacity="0.5"/>
<rect x="471" y="0" width="1" height="19" fill="#8c8c8c" shape-rendering="crispEdges"/>
<rect x="476" y="0" width="1" height="19" fill="#8c8c8c" shape-rendering="crispEdges"/>
<rect x="477" y="0" width="24" height="19" fill="url(#chk)" shape-rendering="crispEdges"/>
<g stroke="#505050" stroke-width="1.2" fill="none"><path d="M484.5 3.5 V16.5 M481.5 14.5 H495.5"/></g>
<path d="M482.5 5.5 L484.5 2.8 L486.5 5.5 Z M494.0 12.5 L496.5 14.5 L494.0 16.5 Z" fill="#505050"/>
<path d="M489.5 5 L493.5 8.5 L489.5 12 Z" fill="#50e050" stroke="#109010" stroke-width="0.9"/>
<rect x="504" y="0" width="1" height="19" fill="#8c8c8c" shape-rendering="crispEdges"/>
<rect x="505" y="0" width="24" height="19" fill="url(#chk)" shape-rendering="crispEdges"/>
<g stroke="#505050" stroke-width="1.2" fill="none"><path d="M512.5 3.5 V16.5 M509.5 14.5 H523.5"/></g>
<path d="M510.5 5.5 L512.5 2.8 L514.5 5.5 Z M522.0 12.5 L524.5 14.5 L522.0 16.5 Z" fill="#505050"/>
<path d="M518.5 3 V13" stroke="#2a70b0" stroke-width="1.3"/><path d="M519.6 8.5 L523.8 8.5 M521.3 6.3 L519.6 8.5 L521.3 10.7 M522.6 6.5 L522.6 10.5" stroke="#e04808" stroke-width="1.1" fill="none"/>
<rect x="533" y="0" width="1" height="19" fill="#8c8c8c" shape-rendering="crispEdges"/>
<path d="M543.5 1.5 h7 l4 4 v8.5 h-11 Z" fill="#fff" stroke="#707070" stroke-width="1"/><path d="M550.5 1.5 v4 h4" fill="#e0e0e0" stroke="#707070" stroke-width="0.8"/>
<path d="M547 4 q-1.5 0 -1.5 1.5 v5 q0 1.5 1.5 1.5 M546 8 h2" stroke="#606060" stroke-width="0.9" fill="none"/>
<path d="M551.5 7 h3.4 v4 h4 v3.4 h-4 v4 h-3.4 v-4 h-4 v-3.4 h4 Z" fill="url(#gplus)" stroke="#0c8c0c" stroke-width="0.8"/>
<path d="M565 8 h5 l-2.5 3 Z" fill="#000"/>
<circle cx="588.9" cy="8.8" r="6.8" fill="#fff" stroke="url(#clk)" stroke-width="2.6"/><circle cx="588.9" cy="8.8" r="5.4" fill="none" stroke="#d8e4f0" stroke-width="0.8" stroke-dasharray="0.8 2"/>
<path d="M588.9 5 V9 H591.5" stroke="#303030" stroke-width="1.2" fill="none"/>
<path d="M604 8 h5 l-2.5 3 Z" fill="#000"/>
<rect x="620.7" y="2.7" width="15" height="13" fill="#fff" stroke="#3a7ac8" stroke-width="1.2"/><rect x="621" y="3" width="14.4" height="1.8" fill="#a8ccf0"/><path d="M621 10 H635.5" stroke="#3a7ac8" stroke-width="1"/>
<path d="M622.5 8.3 L625 7.8 L627.5 6.6 L630 7.4 L632 7 L634 6.3" stroke="#b02000" stroke-width="1.2" fill="none"/><path d="M623 13.6 L625.5 13 L627.5 13.8 L630.5 11.6 L633.5 13.6" stroke="#109020" stroke-width="1.2" fill="none"/>
<path d="M643 8 h5 l-2.5 3 Z" fill="#000"/>
<rect x="654" y="0" width="1" height="21" fill="#8c8c8c" shape-rendering="crispEdges"/>
<rect x="658" y="1" width="3" height="1" fill="#a6a6a6" shape-rendering="crispEdges"/>
<rect x="658" y="3" width="3" height="1" fill="#a6a6a6" shape-rendering="crispEdges"/>
<rect x="658" y="5" width="3" height="1" fill="#a6a6a6" shape-rendering="crispEdges"/>
<rect x="658" y="7" width="3" height="1" fill="#a6a6a6" shape-rendering="crispEdges"/>
<rect x="658" y="9" width="3" height="1" fill="#a6a6a6" shape-rendering="crispEdges"/>
<rect x="658" y="11" width="3" height="1" fill="#a6a6a6" shape-rendering="crispEdges"/>
<rect x="658" y="13" width="3" height="1" fill="#a6a6a6" shape-rendering="crispEdges"/>
<rect x="658" y="15" width="3" height="1" fill="#a6a6a6" shape-rendering="crispEdges"/>
<rect x="658" y="17" width="3" height="1" fill="#a6a6a6" shape-rendering="crispEdges"/>
<rect x="664" y="0" width="1" height="19" fill="#8c8c8c" shape-rendering="crispEdges"/>
<rect x="665" y="0" width="24" height="19" fill="url(#chk)" shape-rendering="crispEdges"/>
<path d="M672 2 L672 13.5 L674.8 11 L677.2 16.2 L679.2 15.3 L676.9 10.2 L680.6 9.8 Z" fill="#484848"/>
<path d="M697 9.5 H703 M706.5 9.5 H712 M704.6 2 V7.8 M704.6 11.2 V17" stroke="#505050" stroke-width="1.2" fill="none"/>
<rect x="721" y="0" width="1" height="19" fill="#8c8c8c" shape-rendering="crispEdges"/>
<path d="M738.4 3 V16" stroke="#505050" stroke-width="1.3"/><path d="M761 9.4 H773" stroke="#505050" stroke-width="1.3"/>
<path d="M789 15.8 L801.2 3.8" stroke="#606060" stroke-width="1.3"/>
<path d="M815 11 L826.5 2.5 M816 15 L828.5 6 M817.5 8 L816.5 15.5 M821 5.5 L820 13.5 M824.5 3 L823.5 11.5 M827.5 1 L826.5 9" stroke="#606060" stroke-width="1" fill="none"/>
<text x="825.6" y="17.6" font-size="6.5" font-weight="700" fill="#404040">E</text>
<path d="M844 2 h13" stroke="#606060" stroke-width="1" stroke-dasharray="1 1"/>
<path d="M844 5.5 h13" stroke="#606060" stroke-width="1" stroke-dasharray="1 1"/>
<path d="M844 9.5 h13" stroke="#606060" stroke-width="1" stroke-dasharray="1 1"/>
<path d="M844 13.5 h9" stroke="#606060" stroke-width="1" stroke-dasharray="1 1"/>
<text x="853.6" y="18" font-size="6.5" font-weight="700" fill="#404040">F</text>
<text x="874.4" y="13.7" font-size="12.4" font-weight="700" fill="#606060" textLength="8.6" lengthAdjust="spacingAndGlyphs">A</text>
<rect x="901.4" y="3.6" width="11.4" height="12" fill="none" stroke="#606060" stroke-width="1" stroke-dasharray="1 1"/><rect x="900.5" y="2.6" width="2" height="2" fill="#606060"/>
<path d="M904.8 6.8 H911 M907.9 6.8 V14" stroke="#606060" stroke-width="1.7" fill="none"/>
<path d="M932 2.8 L935.4 6 L932 8 L928.6 6 Z M939 10.5 L942.4 12.8 L939 16 L935.6 12.8 Z" fill="#505050"/><path d="M931.5 9.5 L933.5 11.5 L938.5 6.5" stroke="#505050" stroke-width="1.2" fill="none"/>
<path d="M949 8 h5 l-2.5 3 Z" fill="#000"/>
<rect x="960" y="0" width="1" height="21" fill="#8c8c8c" shape-rendering="crispEdges"/>
<rect x="964" y="1" width="3" height="1" fill="#a6a6a6" shape-rendering="crispEdges"/>
<rect x="964" y="3" width="3" height="1" fill="#a6a6a6" shape-rendering="crispEdges"/>
<rect x="964" y="5" width="3" height="1" fill="#a6a6a6" shape-rendering="crispEdges"/>
<rect x="964" y="7" width="3" height="1" fill="#a6a6a6" shape-rendering="crispEdges"/>
<rect x="964" y="9" width="3" height="1" fill="#a6a6a6" shape-rendering="crispEdges"/>
<rect x="964" y="11" width="3" height="1" fill="#a6a6a6" shape-rendering="crispEdges"/>
<rect x="964" y="13" width="3" height="1" fill="#a6a6a6" shape-rendering="crispEdges"/>
<rect x="964" y="15" width="3" height="1" fill="#a6a6a6" shape-rendering="crispEdges"/>
<rect x="964" y="17" width="3" height="1" fill="#a6a6a6" shape-rendering="crispEdges"/>
<text x="975.6" y="12.4" font-size="10" fill="#404040" textLength="12.7" lengthAdjust="spacingAndGlyphs">M1</text>
<text x="1003.5" y="12.4" font-size="10" fill="#404040" textLength="12.5" lengthAdjust="spacingAndGlyphs">M5</text>
<text x="1029.7" y="12.4" font-size="10" fill="#404040" textLength="17.4" lengthAdjust="spacingAndGlyphs">M15</text>
<text x="1057.7" y="12.4" font-size="10" fill="#404040" textLength="17.4" lengthAdjust="spacingAndGlyphs">M30</text>
<text x="1088.3" y="12.4" font-size="10" fill="#404040" textLength="12" lengthAdjust="spacingAndGlyphs">H1</text>
<text x="1115.5" y="12.4" font-size="10" fill="#404040" textLength="12.5" lengthAdjust="spacingAndGlyphs">H4</text>
<rect x="1138" y="0" width="1" height="19" fill="#8c8c8c" shape-rendering="crispEdges"/>
<rect x="1139" y="0" width="24" height="19" fill="url(#chk)" shape-rendering="crispEdges"/>
<text x="1144.3" y="12.4" font-size="10" fill="#404040" textLength="12" lengthAdjust="spacingAndGlyphs">D1</text>
<text x="1172.3" y="12.4" font-size="10" fill="#404040" textLength="14" lengthAdjust="spacingAndGlyphs">W1</text>
<text x="1198.7" y="12.4" font-size="10" fill="#404040" textLength="14.8" lengthAdjust="spacingAndGlyphs">MN</text>
<rect x="1221" y="0" width="1" height="21" fill="#8c8c8c" shape-rendering="crispEdges"/>
<path d="M1688.8 9.4 L1684 13.8" stroke="#2a5bd7" stroke-width="2.4"/><circle cx="1691.7" cy="6.5" r="3.9" fill="#fff" stroke="#2a5bd7" stroke-width="1.2"/>
<path d="M1726 10.2 l1.8 2.6 l-0.3 -2.9 Z" fill="#707070"/><ellipse cx="1724" cy="5.9" rx="6.4" ry="4.6" fill="url(#bub)" stroke="#909090" stroke-width="0.9"/>
<path d="M1713 13.2 l-0.6 2.6 l2.4 -2.2 Z" fill="#707070"/><ellipse cx="1715.2" cy="10.1" rx="5" ry="3.8" fill="url(#bub)" stroke="#909090" stroke-width="0.9"/>
</svg>
<div id="oct">
<div class="r sell"></div><div class="r buy"></div>
<div class="r big l"></div><div class="r big rr"></div>
<div class="ul" style="left:3px"></div><div class="ul" style="left:170px"></div><div class="wg"></div>
<div class="spin"><div class="sb lft"><i class="dn"></i></div><div class="sb rgt"><i class="up"></i></div><span class="vol">1.00</span></div>
<span class="lb" style="left:11.3px;transform:scaleX(0.885)">SELL</span><span class="lb" style="left:179.5px;transform:scaleX(0.92)">BUY</span>
<span class="sm" style="left:19.4px;top:44.3px">1.27</span><span class="bg" style="left:46.6px">89</span><span class="sm" style="left:86px;top:28.4px">6</span>
<span class="sm" style="left:129px;top:44.3px">1.27</span><span class="bg" style="left:156.8px">91</span><span class="sm" style="left:197.4px;top:28.4px">7</span>
</div>
</body></html>
